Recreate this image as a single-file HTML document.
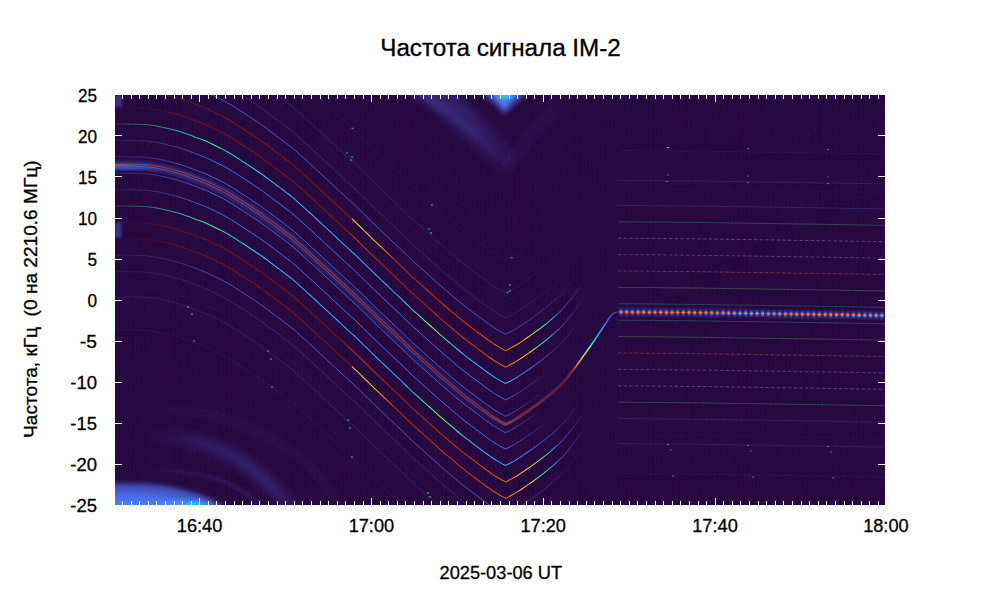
<!DOCTYPE html>
<html lang="ru"><head><meta charset="utf-8"><title>Частота сигнала IM-2</title>
<style>
html,body{margin:0;padding:0;background:#fff;}
body{width:1000px;height:600px;overflow:hidden;font-family:"Liberation Sans",sans-serif;}
svg{display:block;position:absolute;left:0;top:0;}
</style></head><body>
<svg width="1000" height="600" viewBox="0 0 1000 600">
<defs>
<clipPath id="cp"><rect x="115" y="95" width="770" height="410"/></clipPath>
<filter id="b2" filterUnits="userSpaceOnUse" x="60" y="40" width="900" height="520"><feGaussianBlur stdDeviation="1.6"/></filter>
<filter id="b4" filterUnits="userSpaceOnUse" x="60" y="40" width="900" height="520"><feGaussianBlur stdDeviation="4"/></filter>
<filter id="b7" filterUnits="userSpaceOnUse" x="60" y="40" width="900" height="520"><feGaussianBlur stdDeviation="7"/></filter>
<filter id="b05" filterUnits="userSpaceOnUse" x="60" y="40" width="900" height="520"><feGaussianBlur stdDeviation="0.5"/></filter>
<filter id="b1" filterUnits="userSpaceOnUse" x="60" y="40" width="900" height="520"><feGaussianBlur stdDeviation="0.9"/></filter>
<pattern id="seam" patternUnits="userSpaceOnUse" x="115" y="0" width="4.3" height="8"><rect x="0" y="0" width="1" height="8" fill="#16033a" opacity="0.2"/><rect x="2.1" y="0" width="1" height="8" fill="#44084a" opacity="0.13"/></pattern>
<filter id="noise" filterUnits="userSpaceOnUse" x="115" y="95" width="770" height="410"><feTurbulence type="fractalNoise" baseFrequency="0.85 0.6" numOctaves="1" seed="7"/><feColorMatrix type="matrix" values="0 0 0 0 0.22  0 0 0 0 0.10  0 0 0 0 0.44  1.2 1.2 0 0 -1.18"/></filter>
<linearGradient id="arcg" gradientUnits="userSpaceOnUse" x1="140" y1="0" x2="300" y2="0"><stop offset="0" stop-color="#3d358b" stop-opacity="0"/><stop offset="0.45" stop-color="#3f3b97" stop-opacity="0.55"/><stop offset="0.8" stop-color="#3f3b97" stop-opacity="0.6"/><stop offset="1" stop-color="#3d358b" stop-opacity="0.45"/></linearGradient>
<filter id="b3" filterUnits="userSpaceOnUse" x="60" y="40" width="900" height="520"><feGaussianBlur stdDeviation="2.8"/></filter>
<linearGradient id="wdg" gradientUnits="userSpaceOnUse" x1="0" y1="90" x2="0" y2="172"><stop offset="0" stop-color="#3f3b97" stop-opacity="0.55"/><stop offset="0.5" stop-color="#3d358b" stop-opacity="0.4"/><stop offset="1" stop-color="#3d358b" stop-opacity="0.08"/></linearGradient>
<linearGradient id="g1" gradientUnits="userSpaceOnUse" x1="100" y1="0" x2="505.5" y2="0"><stop offset="0.0000" stop-color="#434eba" stop-opacity="0.60"/><stop offset="0.1233" stop-color="#434eba" stop-opacity="0.52"/><stop offset="0.3699" stop-color="#424bb5" stop-opacity="0.44"/><stop offset="0.5672" stop-color="#424bb5" stop-opacity="0.38"/><stop offset="0.7891" stop-color="#424bb5" stop-opacity="0.30"/><stop offset="1.0000" stop-color="#4143a7" stop-opacity="0.12"/></linearGradient>
<linearGradient id="g2" gradientUnits="userSpaceOnUse" x1="100" y1="0" x2="165" y2="0"><stop offset="0.0000" stop-color="#4666dd" stop-opacity="0.70"/><stop offset="0.5385" stop-color="#4666dd" stop-opacity="0.55"/><stop offset="1.0000" stop-color="#4559cb" stop-opacity="0.00"/></linearGradient>
<linearGradient id="g3" gradientUnits="userSpaceOnUse" x1="100" y1="0" x2="543" y2="0"><stop offset="0.0000" stop-color="#4559cb" stop-opacity="0.25"/><stop offset="0.0903" stop-color="#4661d6" stop-opacity="0.40"/><stop offset="0.2257" stop-color="#4773eb" stop-opacity="0.85"/><stop offset="0.8578" stop-color="#4773eb" stop-opacity="0.85"/><stop offset="0.9153" stop-color="#476ee6" stop-opacity="0.80"/><stop offset="0.9594" stop-color="#4661d6" stop-opacity="0.50"/><stop offset="1.0000" stop-color="#4454c3" stop-opacity="0.00"/></linearGradient>
<linearGradient id="g4" gradientUnits="userSpaceOnUse" x1="100" y1="0" x2="548" y2="0"><stop offset="0.0000" stop-color="#4559cb" stop-opacity="0.12"/><stop offset="0.0558" stop-color="#4559cb" stop-opacity="0.25"/><stop offset="0.1339" stop-color="#4666dd" stop-opacity="0.45"/><stop offset="0.2567" stop-color="#477bf2" stop-opacity="0.90"/><stop offset="0.8482" stop-color="#477bf2" stop-opacity="0.90"/><stop offset="0.9051" stop-color="#4773eb" stop-opacity="0.90"/><stop offset="0.9554" stop-color="#4661d6" stop-opacity="0.50"/><stop offset="1.0000" stop-color="#4454c3" stop-opacity="0.00"/></linearGradient>
<linearGradient id="g5" gradientUnits="userSpaceOnUse" x1="100" y1="0" x2="580" y2="0"><stop offset="0.0000" stop-color="#a4fc3c" stop-opacity="0.10"/><stop offset="0.0458" stop-color="#79fe59" stop-opacity="0.20"/><stop offset="0.1042" stop-color="#35f394" stop-opacity="0.45"/><stop offset="0.1771" stop-color="#20c7df" stop-opacity="0.85"/><stop offset="0.2333" stop-color="#46f884" stop-opacity="1.00"/><stop offset="0.2812" stop-color="#19d5cd" stop-opacity="1.00"/><stop offset="0.4167" stop-color="#37a8fa" stop-opacity="1.00"/><stop offset="0.6125" stop-color="#3e9bfe" stop-opacity="1.00"/><stop offset="0.6625" stop-color="#27eea4" stop-opacity="1.00"/><stop offset="0.6917" stop-color="#8bff4b" stop-opacity="1.00"/><stop offset="0.7208" stop-color="#27eea4" stop-opacity="1.00"/><stop offset="0.7646" stop-color="#37a8fa" stop-opacity="1.00"/><stop offset="0.8448" stop-color="#2eb4f2" stop-opacity="1.00"/><stop offset="0.8854" stop-color="#4680f6" stop-opacity="0.90"/><stop offset="0.9479" stop-color="#4661d6" stop-opacity="0.45"/><stop offset="1.0000" stop-color="#4454c3" stop-opacity="0.00"/></linearGradient>
<linearGradient id="g6" gradientUnits="userSpaceOnUse" x1="100" y1="0" x2="588" y2="0"><stop offset="0.0000" stop-color="#920b01" stop-opacity="0.08"/><stop offset="0.0512" stop-color="#920b01" stop-opacity="0.15"/><stop offset="0.1434" stop-color="#9b0f01" stop-opacity="0.45"/><stop offset="0.2664" stop-color="#a11201" stop-opacity="0.70"/><stop offset="0.5020" stop-color="#a11201" stop-opacity="0.80"/><stop offset="0.5205" stop-color="#d83706" stop-opacity="0.95"/><stop offset="0.6148" stop-color="#af1801" stop-opacity="0.90"/><stop offset="0.7582" stop-color="#d83706" stop-opacity="1.00"/><stop offset="0.8309" stop-color="#f05b12" stop-opacity="1.00"/><stop offset="0.8607" stop-color="#fea431" stop-opacity="1.00"/><stop offset="0.8852" stop-color="#c3f134" stop-opacity="1.00"/><stop offset="0.9057" stop-color="#35f394" stop-opacity="1.00"/><stop offset="0.9262" stop-color="#37a8fa" stop-opacity="0.90"/><stop offset="0.9426" stop-color="#4773eb" stop-opacity="0.60"/><stop offset="0.9734" stop-color="#4559cb" stop-opacity="0.30"/><stop offset="1.0000" stop-color="#424bb5" stop-opacity="0.00"/></linearGradient>
<linearGradient id="g7" gradientUnits="userSpaceOnUse" x1="100" y1="0" x2="589" y2="0"><stop offset="0.0000" stop-color="#920b01" stop-opacity="0.08"/><stop offset="0.0511" stop-color="#920b01" stop-opacity="0.15"/><stop offset="0.1431" stop-color="#9b0f01" stop-opacity="0.45"/><stop offset="0.2658" stop-color="#a11201" stop-opacity="0.70"/><stop offset="0.5143" stop-color="#a11201" stop-opacity="0.80"/><stop offset="0.5153" stop-color="#ebd339" stop-opacity="1.00"/><stop offset="0.5562" stop-color="#f6c33a" stop-opacity="1.00"/><stop offset="0.5808" stop-color="#f9781e" stop-opacity="1.00"/><stop offset="0.6053" stop-color="#c32503" stop-opacity="0.90"/><stop offset="0.7566" stop-color="#d83706" stop-opacity="1.00"/><stop offset="0.8292" stop-color="#f05b12" stop-opacity="1.00"/><stop offset="0.8589" stop-color="#fea431" stop-opacity="1.00"/><stop offset="0.8855" stop-color="#c3f134" stop-opacity="1.00"/><stop offset="0.9059" stop-color="#35f394" stop-opacity="1.00"/><stop offset="0.9264" stop-color="#37a8fa" stop-opacity="0.90"/><stop offset="0.9427" stop-color="#4773eb" stop-opacity="0.60"/><stop offset="0.9734" stop-color="#4559cb" stop-opacity="0.30"/><stop offset="1.0000" stop-color="#424bb5" stop-opacity="0.00"/></linearGradient>
<linearGradient id="g8" gradientUnits="userSpaceOnUse" x1="100" y1="0" x2="580" y2="0"><stop offset="0.0000" stop-color="#4559cb" stop-opacity="0.10"/><stop offset="0.0521" stop-color="#4559cb" stop-opacity="0.20"/><stop offset="0.1458" stop-color="#4661d6" stop-opacity="0.40"/><stop offset="0.2708" stop-color="#476ee6" stop-opacity="0.80"/><stop offset="0.7917" stop-color="#476ee6" stop-opacity="0.80"/><stop offset="0.8448" stop-color="#4666dd" stop-opacity="0.75"/><stop offset="0.9375" stop-color="#4559cb" stop-opacity="0.45"/><stop offset="1.0000" stop-color="#424bb5" stop-opacity="0.00"/></linearGradient>
<linearGradient id="g9" gradientUnits="userSpaceOnUse" x1="100" y1="0" x2="575" y2="0"><stop offset="0.0000" stop-color="#424bb5" stop-opacity="0.20"/><stop offset="0.4211" stop-color="#4454c3" stop-opacity="0.45"/><stop offset="0.8537" stop-color="#424bb5" stop-opacity="0.40"/><stop offset="0.9474" stop-color="#4143a7" stop-opacity="0.20"/><stop offset="1.0000" stop-color="#4143a7" stop-opacity="0.00"/></linearGradient>
<linearGradient id="g10" gradientUnits="userSpaceOnUse" x1="100" y1="0" x2="570" y2="0"><stop offset="0.0000" stop-color="#3f3e9c" stop-opacity="0.10"/><stop offset="0.4255" stop-color="#3f3e9c" stop-opacity="0.15"/><stop offset="0.8628" stop-color="#3f3e9c" stop-opacity="0.12"/><stop offset="1.0000" stop-color="#3f3e9c" stop-opacity="0.00"/></linearGradient>
<linearGradient id="g11" gradientUnits="userSpaceOnUse" x1="100" y1="0" x2="575" y2="0"><stop offset="0.0000" stop-color="#424bb5" stop-opacity="0.25"/><stop offset="0.4211" stop-color="#424bb5" stop-opacity="0.38"/><stop offset="0.8537" stop-color="#4143a7" stop-opacity="0.35"/><stop offset="1.0000" stop-color="#3f3e9c" stop-opacity="0.00"/></linearGradient>
<linearGradient id="g12" gradientUnits="userSpaceOnUse" x1="100" y1="0" x2="560" y2="0"><stop offset="0.0000" stop-color="#3f3e9c" stop-opacity="0.18"/><stop offset="0.4348" stop-color="#3f3e9c" stop-opacity="0.25"/><stop offset="0.8815" stop-color="#3d358b" stop-opacity="0.20"/><stop offset="1.0000" stop-color="#3d358b" stop-opacity="0.00"/></linearGradient>
<linearGradient id="g13" gradientUnits="userSpaceOnUse" x1="100" y1="0" x2="543" y2="0"><stop offset="0.0000" stop-color="#4559cb" stop-opacity="0.25"/><stop offset="0.0903" stop-color="#4661d6" stop-opacity="0.40"/><stop offset="0.2257" stop-color="#4773eb" stop-opacity="0.85"/><stop offset="0.8578" stop-color="#4773eb" stop-opacity="0.85"/><stop offset="0.9153" stop-color="#476ee6" stop-opacity="0.80"/><stop offset="0.9594" stop-color="#4661d6" stop-opacity="0.50"/><stop offset="1.0000" stop-color="#4454c3" stop-opacity="0.00"/></linearGradient>
<linearGradient id="g14" gradientUnits="userSpaceOnUse" x1="100" y1="0" x2="548" y2="0"><stop offset="0.0000" stop-color="#4559cb" stop-opacity="0.12"/><stop offset="0.0558" stop-color="#4559cb" stop-opacity="0.25"/><stop offset="0.1339" stop-color="#4666dd" stop-opacity="0.45"/><stop offset="0.2567" stop-color="#477bf2" stop-opacity="0.90"/><stop offset="0.8482" stop-color="#477bf2" stop-opacity="0.90"/><stop offset="0.9051" stop-color="#4773eb" stop-opacity="0.90"/><stop offset="0.9554" stop-color="#4661d6" stop-opacity="0.50"/><stop offset="1.0000" stop-color="#4454c3" stop-opacity="0.00"/></linearGradient>
<linearGradient id="g15" gradientUnits="userSpaceOnUse" x1="100" y1="0" x2="580" y2="0"><stop offset="0.0000" stop-color="#a4fc3c" stop-opacity="0.10"/><stop offset="0.0458" stop-color="#79fe59" stop-opacity="0.20"/><stop offset="0.1042" stop-color="#35f394" stop-opacity="0.45"/><stop offset="0.1771" stop-color="#20c7df" stop-opacity="0.85"/><stop offset="0.2333" stop-color="#46f884" stop-opacity="1.00"/><stop offset="0.2812" stop-color="#19d5cd" stop-opacity="1.00"/><stop offset="0.4167" stop-color="#37a8fa" stop-opacity="1.00"/><stop offset="0.6292" stop-color="#3e9bfe" stop-opacity="1.00"/><stop offset="0.6792" stop-color="#27eea4" stop-opacity="1.00"/><stop offset="0.7083" stop-color="#8bff4b" stop-opacity="1.00"/><stop offset="0.7375" stop-color="#27eea4" stop-opacity="1.00"/><stop offset="0.7812" stop-color="#37a8fa" stop-opacity="1.00"/><stop offset="0.8448" stop-color="#2eb4f2" stop-opacity="1.00"/><stop offset="0.8854" stop-color="#4680f6" stop-opacity="0.90"/><stop offset="0.9479" stop-color="#4661d6" stop-opacity="0.45"/><stop offset="1.0000" stop-color="#4454c3" stop-opacity="0.00"/></linearGradient>
<linearGradient id="g16" gradientUnits="userSpaceOnUse" x1="100" y1="0" x2="588" y2="0"><stop offset="0.0000" stop-color="#920b01" stop-opacity="0.08"/><stop offset="0.0512" stop-color="#920b01" stop-opacity="0.15"/><stop offset="0.1434" stop-color="#9b0f01" stop-opacity="0.45"/><stop offset="0.2664" stop-color="#a11201" stop-opacity="0.70"/><stop offset="0.5020" stop-color="#a11201" stop-opacity="0.80"/><stop offset="0.5205" stop-color="#d83706" stop-opacity="0.95"/><stop offset="0.6148" stop-color="#af1801" stop-opacity="0.90"/><stop offset="0.7582" stop-color="#d83706" stop-opacity="1.00"/><stop offset="0.8309" stop-color="#f05b12" stop-opacity="1.00"/><stop offset="0.8607" stop-color="#fea431" stop-opacity="1.00"/><stop offset="0.8852" stop-color="#c3f134" stop-opacity="1.00"/><stop offset="0.9057" stop-color="#35f394" stop-opacity="1.00"/><stop offset="0.9262" stop-color="#37a8fa" stop-opacity="0.90"/><stop offset="0.9426" stop-color="#4773eb" stop-opacity="0.60"/><stop offset="0.9734" stop-color="#4559cb" stop-opacity="0.30"/><stop offset="1.0000" stop-color="#424bb5" stop-opacity="0.00"/></linearGradient>
<linearGradient id="g17" gradientUnits="userSpaceOnUse" x1="100" y1="0" x2="589" y2="0"><stop offset="0.0000" stop-color="#920b01" stop-opacity="0.08"/><stop offset="0.0511" stop-color="#920b01" stop-opacity="0.15"/><stop offset="0.1431" stop-color="#9b0f01" stop-opacity="0.45"/><stop offset="0.2658" stop-color="#a11201" stop-opacity="0.70"/><stop offset="0.5143" stop-color="#a11201" stop-opacity="0.80"/><stop offset="0.5153" stop-color="#ebd339" stop-opacity="1.00"/><stop offset="0.5562" stop-color="#f6c33a" stop-opacity="1.00"/><stop offset="0.5808" stop-color="#f9781e" stop-opacity="1.00"/><stop offset="0.6053" stop-color="#c32503" stop-opacity="0.90"/><stop offset="0.7566" stop-color="#d83706" stop-opacity="1.00"/><stop offset="0.8292" stop-color="#f05b12" stop-opacity="1.00"/><stop offset="0.8589" stop-color="#fea431" stop-opacity="1.00"/><stop offset="0.8855" stop-color="#c3f134" stop-opacity="1.00"/><stop offset="0.9059" stop-color="#35f394" stop-opacity="1.00"/><stop offset="0.9264" stop-color="#37a8fa" stop-opacity="0.90"/><stop offset="0.9427" stop-color="#4773eb" stop-opacity="0.60"/><stop offset="0.9734" stop-color="#4559cb" stop-opacity="0.30"/><stop offset="1.0000" stop-color="#424bb5" stop-opacity="0.00"/></linearGradient>
<linearGradient id="g18" gradientUnits="userSpaceOnUse" x1="100" y1="0" x2="580" y2="0"><stop offset="0.0000" stop-color="#4559cb" stop-opacity="0.10"/><stop offset="0.0521" stop-color="#4559cb" stop-opacity="0.20"/><stop offset="0.1458" stop-color="#4661d6" stop-opacity="0.40"/><stop offset="0.2708" stop-color="#476ee6" stop-opacity="0.80"/><stop offset="0.7917" stop-color="#476ee6" stop-opacity="0.80"/><stop offset="0.8448" stop-color="#4666dd" stop-opacity="0.75"/><stop offset="0.9375" stop-color="#4559cb" stop-opacity="0.45"/><stop offset="1.0000" stop-color="#424bb5" stop-opacity="0.00"/></linearGradient>
<linearGradient id="g19" gradientUnits="userSpaceOnUse" x1="100" y1="0" x2="575" y2="0"><stop offset="0.0000" stop-color="#424bb5" stop-opacity="0.20"/><stop offset="0.4211" stop-color="#4454c3" stop-opacity="0.45"/><stop offset="0.8537" stop-color="#424bb5" stop-opacity="0.40"/><stop offset="0.9474" stop-color="#4143a7" stop-opacity="0.20"/><stop offset="1.0000" stop-color="#4143a7" stop-opacity="0.00"/></linearGradient>
<linearGradient id="g20" gradientUnits="userSpaceOnUse" x1="100" y1="0" x2="570" y2="0"><stop offset="0.0000" stop-color="#3f3e9c" stop-opacity="0.10"/><stop offset="0.4255" stop-color="#3f3e9c" stop-opacity="0.15"/><stop offset="0.8628" stop-color="#3f3e9c" stop-opacity="0.12"/><stop offset="1.0000" stop-color="#3f3e9c" stop-opacity="0.00"/></linearGradient>
<linearGradient id="g21" gradientUnits="userSpaceOnUse" x1="100" y1="0" x2="575" y2="0"><stop offset="0.0000" stop-color="#424bb5" stop-opacity="0.25"/><stop offset="0.4211" stop-color="#424bb5" stop-opacity="0.38"/><stop offset="0.8537" stop-color="#4143a7" stop-opacity="0.35"/><stop offset="1.0000" stop-color="#3f3e9c" stop-opacity="0.00"/></linearGradient>
<linearGradient id="g22" gradientUnits="userSpaceOnUse" x1="100" y1="0" x2="560" y2="0"><stop offset="0.0000" stop-color="#3f3e9c" stop-opacity="0.18"/><stop offset="0.4348" stop-color="#3f3e9c" stop-opacity="0.25"/><stop offset="0.8815" stop-color="#3d358b" stop-opacity="0.20"/><stop offset="1.0000" stop-color="#3d358b" stop-opacity="0.00"/></linearGradient>
<linearGradient id="g23" gradientUnits="userSpaceOnUse" x1="100" y1="0" x2="618.1" y2="0"><stop offset="0.0000" stop-color="#f05b12" stop-opacity="0.80"/><stop offset="0.0965" stop-color="#a11201" stop-opacity="1.00"/><stop offset="0.1930" stop-color="#850702" stop-opacity="1.00"/><stop offset="0.7334" stop-color="#850702" stop-opacity="1.00"/><stop offset="0.7827" stop-color="#c32503" stop-opacity="1.00"/><stop offset="0.8107" stop-color="#a11201" stop-opacity="1.00"/><stop offset="0.8975" stop-color="#920b01" stop-opacity="1.00"/><stop offset="0.9130" stop-color="#c32503" stop-opacity="1.00"/><stop offset="0.9226" stop-color="#fc8725" stop-opacity="1.00"/><stop offset="0.9323" stop-color="#e1dd37" stop-opacity="1.00"/><stop offset="0.9438" stop-color="#79fe59" stop-opacity="1.00"/><stop offset="0.9554" stop-color="#1ecbda" stop-opacity="1.00"/><stop offset="0.9670" stop-color="#448ffe" stop-opacity="1.00"/><stop offset="0.9805" stop-color="#476ee6" stop-opacity="0.95"/><stop offset="0.9902" stop-color="#4454c3" stop-opacity="0.80"/><stop offset="1.0000" stop-color="#4143a7" stop-opacity="0.50"/></linearGradient>
<linearGradient id="g24" gradientUnits="userSpaceOnUse" x1="100" y1="0" x2="600" y2="0"><stop offset="0.0000" stop-color="#4773eb" stop-opacity="0.35"/><stop offset="0.1200" stop-color="#448ffe" stop-opacity="0.60"/><stop offset="0.7600" stop-color="#448ffe" stop-opacity="0.60"/><stop offset="0.8110" stop-color="#4687fb" stop-opacity="0.55"/><stop offset="0.9400" stop-color="#4773eb" stop-opacity="0.30"/><stop offset="1.0000" stop-color="#4666dd" stop-opacity="0.00"/></linearGradient>
</defs>
<rect x="0" y="0" width="1000" height="600" fill="#fff"/>
<rect x="115" y="95" width="770" height="410" fill="#25083f"/>
<g clip-path="url(#cp)">
<rect x="115" y="95" width="770" height="410" fill="url(#seam)"/>
<rect x="115" y="95" width="770" height="410" fill="#000" filter="url(#noise)" opacity="0.2"/>
<path d="M120 435 C170 435 208 440 236 458 C262 475 286 498 304 524" stroke="url(#arcg)" stroke-opacity="0.75" stroke-width="14" fill="none" filter="url(#b4)"/>
<path d="M120 469 C160 469 200 471 225 482 C245 491 258 502 268 514" stroke="url(#arcg)" stroke-opacity="0.5" stroke-width="4" fill="none" filter="url(#b2)"/>
<path d="M150 408 C210 410 260 425 300 458 C320 476 335 496 345 514" stroke="url(#arcg)" stroke-opacity="0.22" stroke-width="10" fill="none" filter="url(#b4)"/>
<path d="M90 483 L140 483.6 C174 485 204 492.6 229 510 L229 520 L90 520 Z" fill="#4249b1" opacity="1.0" filter="url(#b3)"/>
<path d="M90 488 L140 488.6 C168 490 198 495.6 223 510 L223 520 L90 520 Z" fill="#455ccf" opacity="1.0" filter="url(#b3)"/>
<path d="M90 494 L140 494.6 C162 496 192 499.2 217 510 L217 520 L90 520 Z" fill="#4771e9" opacity="1.0" filter="url(#b3)"/>
<path d="M90 500 L140 500.6 C156 502 186 502.8 211 510 L211 520 L90 520 Z" fill="#467df4" opacity="1.0" filter="url(#b3)"/>
<ellipse cx="186" cy="506" rx="26" ry="5" fill="#4294ff" filter="url(#b3)"/>
<ellipse cx="194" cy="506" rx="9" ry="3.5" fill="#20c7df" filter="url(#b2)"/>
<path d="M400 68 C442 98 482 132 508 168" stroke="url(#wdg)" stroke-width="26" fill="none" filter="url(#b4)"/>
<path d="M392 75 C435 100 478 132 506 166" stroke="url(#wdg)" stroke-opacity="0.8" stroke-width="9" fill="none" filter="url(#b3)"/>
<path d="M508 166 C520 148 532 133 550 115" stroke="#3d358b" stroke-opacity="0.14" stroke-width="14" stroke-linecap="round" fill="none" filter="url(#b4)"/>
<path d="M478 88 L531 88 L504.5 114 Z" fill="#434eba" filter="url(#b3)"/>
<path d="M486 88 L523 88 L504.5 108 Z" fill="#4773eb" filter="url(#b2)"/>
<ellipse cx="504.5" cy="95" rx="8" ry="5" fill="#3ba0fd" filter="url(#b2)"/>
<ellipse cx="504.5" cy="95.5" rx="3.5" ry="2.5" fill="#19d5cd" filter="url(#b1)"/>
<rect x="115" y="95" width="7" height="12" fill="#4040a2" opacity="0.7" filter="url(#b1)"/>
<rect x="115" y="222.5" width="6.5" height="15" fill="#424bb5" opacity="0.65" filter="url(#b1)"/>
<path d="M100.0 165.5L103.0 165.5L106.0 165.5L109.0 165.5L112.0 165.5L115.0 165.5L118.0 165.5L121.0 165.5L124.0 165.5L127.0 165.6L130.0 165.6L133.0 165.7L136.0 165.7L139.0 165.8L142.0 165.9L145.0 166.0L148.0 166.3L151.0 166.7L154.0 167.1L157.0 167.6L160.0 168.2L163.0 168.9L166.0 169.5L169.0 170.2L172.0 171.0L175.0 171.8L178.0 172.6L181.0 173.5L184.0 174.5L187.0 175.5L190.0 176.6L193.0 177.7L196.0 178.9L199.0 180.0L202.0 181.1L205.0 182.3L208.0 183.6L211.0 185.1L214.0 186.5L217.0 188.0L220.0 189.4L223.0 190.9L226.0 192.6L229.0 194.3L232.0 196.1L235.0 198.0L238.0 199.9L241.0 201.9L244.0 203.8L247.0 205.8L250.0 207.7L253.0 209.7L256.0 211.7L259.0 213.7L262.0 215.8L265.0 218.0L268.0 220.2L271.0 222.5L274.0 224.7L277.0 227.0L280.0 229.2L283.0 231.5L286.0 233.8L289.0 236.0L292.0 238.4L295.0 240.9L298.0 243.6L301.0 246.4L304.0 249.1L307.0 251.8L310.0 254.5L313.0 257.2L316.0 260.0L319.0 262.8L322.0 265.6L325.0 268.3L328.0 271.1L331.0 273.9L334.0 276.7L337.0 279.5L340.0 282.3L343.0 285.1L346.0 287.8L349.0 290.6L352.0 293.3L355.0 296.0L358.0 298.9L361.0 301.8L364.0 304.8L367.0 307.7L370.0 310.7L373.0 313.6L376.0 316.5L379.0 319.3L382.0 322.2L385.0 325.0L388.0 327.9L391.0 330.7L394.0 333.6L397.0 336.4L400.0 339.2L403.0 342.1L406.0 345.0L409.0 348.0L412.0 350.9L415.0 353.6L418.0 356.2L421.0 358.9L424.0 361.6L427.0 364.3L430.0 367.0L433.0 369.7L436.0 372.4L439.0 375.1L442.0 377.7L445.0 380.3L448.0 382.8L451.0 385.4L454.0 387.9L457.0 390.5L460.0 393.0L463.0 395.4L466.0 397.8L469.0 400.0L472.0 402.3L475.0 404.5L478.0 406.8L481.0 409.0L484.0 411.3L487.0 413.5L490.0 415.6L493.0 417.7L496.0 419.6L499.0 421.4L502.0 423.1L505.0 424.7L505.5 425.0" stroke="url(#g1)" stroke-width="8" fill="none" filter="url(#b2)"/>
<path d="M100.0 167.5L103.0 167.5L106.0 167.5L109.0 167.5L112.0 167.5L115.0 167.5L118.0 167.5L121.0 167.5L124.0 167.5L127.0 167.6L130.0 167.6L133.0 167.7L136.0 167.7L139.0 167.8L142.0 167.9L145.0 168.0L148.0 168.3L151.0 168.7L154.0 169.1L157.0 169.6L160.0 170.2L163.0 170.9L166.0 171.5L169.0 172.2L172.0 173.0L175.0 173.8" stroke="url(#g2)" stroke-width="4" fill="none" filter="url(#b1)"/>
<path d="M100.0 156.8L103.0 156.8L106.0 156.8L109.0 156.8L112.0 156.8L115.0 156.8L118.0 156.8L121.0 156.8L124.0 156.8L127.0 156.9L130.0 156.9L133.0 157.0L136.0 157.0L139.0 157.1L142.0 157.2L145.0 157.3L148.0 157.6L151.0 158.0L154.0 158.4L157.0 158.9L160.0 159.5L163.0 160.2L166.0 160.8L169.0 161.5L172.0 162.3L175.0 163.1L178.0 163.9L181.0 164.8L184.0 165.8L187.0 166.8L190.0 167.9L193.0 169.0L196.0 170.2L199.0 171.3L202.0 172.4L205.0 173.6L208.0 174.9L211.0 176.4L214.0 177.8L217.0 179.3L220.0 180.7L223.0 182.2L226.0 183.9L229.0 185.6L232.0 187.4L235.0 189.3L238.0 191.2L241.0 193.2L244.0 195.1L247.0 197.1L250.0 199.0L253.0 201.0L256.0 203.0L259.0 205.0L262.0 207.1L265.0 209.3L268.0 211.5L271.0 213.8L274.0 216.0L277.0 218.3L280.0 220.5L283.0 222.8L286.0 225.1L289.0 227.3L292.0 229.7L295.0 232.2L298.0 234.9L301.0 237.7L304.0 240.4L307.0 243.1L310.0 245.8L313.0 248.5L316.0 251.3L319.0 254.1L322.0 256.9L325.0 259.6L328.0 262.4L331.0 265.2L334.0 268.0L337.0 270.8L340.0 273.6L343.0 276.4L346.0 279.1L349.0 281.9L352.0 284.6L355.0 287.3L358.0 290.2L361.0 293.1L364.0 296.1L367.0 299.0L370.0 302.0L373.0 304.9L376.0 307.8L379.0 310.6L382.0 313.5L385.0 316.3L388.0 319.2L391.0 322.0L394.0 324.9L397.0 327.7L400.0 330.5L403.0 333.4L406.0 336.3L409.0 339.3L412.0 342.2L415.0 344.9L418.0 347.5L421.0 350.2L424.0 352.9L427.0 355.6L430.0 358.3L433.0 361.0L436.0 363.7L439.0 366.4L442.0 369.0L445.0 371.6L448.0 374.1L451.0 376.7L454.0 379.2L457.0 381.8L460.0 384.3L463.0 386.7L466.0 389.1L469.0 391.3L472.0 393.6L475.0 395.8L478.0 398.1L481.0 400.3L484.0 402.6L487.0 404.8L490.0 406.9L493.0 409.0L496.0 410.9L499.0 412.7L502.0 414.4L505.0 416.0L505.5 416.3L508.0 415.1L511.0 413.5L514.0 411.9L517.0 410.1L520.0 408.2L523.0 406.2L526.0 404.1L529.0 402.1L532.0 400.0L535.0 397.8L538.0 395.6L541.0 393.4" stroke="url(#g3)" stroke-width="0.95" fill="none"/>
<path d="M100.0 140.4L103.0 140.4L106.0 140.4L109.0 140.4L112.0 140.4L115.0 140.4L118.0 140.4L121.0 140.4L124.0 140.4L127.0 140.5L130.0 140.5L133.0 140.6L136.0 140.6L139.0 140.7L142.0 140.8L145.0 140.9L148.0 141.2L151.0 141.6L154.0 142.0L157.0 142.5L160.0 143.1L163.0 143.8L166.0 144.4L169.0 145.1L172.0 145.9L175.0 146.7L178.0 147.5L181.0 148.4L184.0 149.4L187.0 150.4L190.0 151.5L193.0 152.6L196.0 153.8L199.0 154.9L202.0 156.0L205.0 157.2L208.0 158.5L211.0 160.0L214.0 161.4L217.0 162.9L220.0 164.3L223.0 165.8L226.0 167.5L229.0 169.2L232.0 171.0L235.0 172.9L238.0 174.8L241.0 176.8L244.0 178.7L247.0 180.7L250.0 182.6L253.0 184.6L256.0 186.6L259.0 188.6L262.0 190.7L265.0 192.9L268.0 195.1L271.0 197.4L274.0 199.6L277.0 201.9L280.0 204.1L283.0 206.4L286.0 208.7L289.0 210.9L292.0 213.3L295.0 215.8L298.0 218.5L301.0 221.3L304.0 224.0L307.0 226.7L310.0 229.4L313.0 232.1L316.0 234.9L319.0 237.7L322.0 240.5L325.0 243.2L328.0 246.0L331.0 248.8L334.0 251.6L337.0 254.4L340.0 257.2L343.0 260.0L346.0 262.7L349.0 265.5L352.0 268.2L355.0 270.9L358.0 273.8L361.0 276.7L364.0 279.7L367.0 282.6L370.0 285.6L373.0 288.5L376.0 291.4L379.0 294.2L382.0 297.1L385.0 299.9L388.0 302.8L391.0 305.6L394.0 308.4L397.0 311.3L400.0 314.1L403.0 317.0L406.0 319.9L409.0 322.9L412.0 325.8L415.0 328.5L418.0 331.1L421.0 333.8L424.0 336.5L427.0 339.2L430.0 341.9L433.0 344.6L436.0 347.3L439.0 350.0L442.0 352.6L445.0 355.2L448.0 357.7L451.0 360.3L454.0 362.8L457.0 365.4L460.0 367.9L463.0 370.3L466.0 372.7L469.0 374.9L472.0 377.2L475.0 379.4L478.0 381.7L481.0 383.9L484.0 386.2L487.0 388.4L490.0 390.5L493.0 392.6L496.0 394.5L499.0 396.3L502.0 398.0L505.0 399.6L505.5 399.9L508.0 398.7L511.0 397.1L514.0 395.5L517.0 393.7L520.0 391.8L523.0 389.8L526.0 387.7L529.0 385.7L532.0 383.6L535.0 381.4L538.0 379.2L541.0 377.0L544.0 374.7L547.0 372.3" stroke="url(#g4)" stroke-width="0.95" fill="none"/>
<path d="M100.0 124.0L103.0 124.0L106.0 124.0L109.0 124.0L112.0 124.0L115.0 124.0L118.0 124.0L121.0 124.0L124.0 124.0L127.0 124.1L130.0 124.1L133.0 124.2L136.0 124.2L139.0 124.3L142.0 124.4L145.0 124.5L148.0 124.8L151.0 125.2L154.0 125.6L157.0 126.1L160.0 126.7L163.0 127.4L166.0 128.0L169.0 128.7L172.0 129.5L175.0 130.3L178.0 131.1L181.0 132.0L184.0 133.0L187.0 134.0L190.0 135.1L193.0 136.2L196.0 137.4L199.0 138.5L202.0 139.6L205.0 140.8L208.0 142.1L211.0 143.6L214.0 145.0L217.0 146.5L220.0 147.9L223.0 149.4L226.0 151.1L229.0 152.8L232.0 154.6L235.0 156.5L238.0 158.4L241.0 160.4L244.0 162.3L247.0 164.3L250.0 166.2L253.0 168.2L256.0 170.2L259.0 172.2L262.0 174.3L265.0 176.5L268.0 178.7L271.0 181.0L274.0 183.2L277.0 185.5L280.0 187.7L283.0 190.0L286.0 192.3L289.0 194.5L292.0 196.9L295.0 199.4L298.0 202.1L301.0 204.9L304.0 207.6L307.0 210.3L310.0 213.0L313.0 215.7L316.0 218.5L319.0 221.3L322.0 224.1L325.0 226.8L328.0 229.6L331.0 232.4L334.0 235.2L337.0 238.0L340.0 240.8L343.0 243.6L346.0 246.3L349.0 249.1L352.0 251.8L355.0 254.5L358.0 257.4L361.0 260.3L364.0 263.3L367.0 266.2L370.0 269.2L373.0 272.1L376.0 275.0L379.0 277.8L382.0 280.7L385.0 283.5L388.0 286.4L391.0 289.2L394.0 292.1L397.0 294.9L400.0 297.7L403.0 300.6L406.0 303.5L409.0 306.5L412.0 309.4L415.0 312.1L418.0 314.7L421.0 317.4L424.0 320.1L427.0 322.8L430.0 325.5L433.0 328.2L436.0 330.9L439.0 333.6L442.0 336.2L445.0 338.8L448.0 341.3L451.0 343.9L454.0 346.4L457.0 349.0L460.0 351.5L463.0 353.9L466.0 356.3L469.0 358.5L472.0 360.8L475.0 363.0L478.0 365.3L481.0 367.5L484.0 369.8L487.0 372.0L490.0 374.1L493.0 376.2L496.0 378.1L499.0 379.9L502.0 381.6L505.0 383.2L505.5 383.5L508.0 382.3L511.0 380.7L514.0 379.1L517.0 377.3L520.0 375.4L523.0 373.4L526.0 371.3L529.0 369.3L532.0 367.2L535.0 365.0L538.0 362.8L541.0 360.6L544.0 358.3L547.0 355.9L550.0 353.4L553.0 350.8L556.0 348.1L559.0 345.4L562.0 342.5L565.0 339.2L568.0 335.5L571.0 331.7L574.0 327.9L577.0 323.9L580.0 319.8" stroke="url(#g5)" stroke-width="1.05" fill="none"/>
<path d="M100.0 107.6L103.0 107.6L106.0 107.6L109.0 107.6L112.0 107.6L115.0 107.6L118.0 107.6L121.0 107.6L124.0 107.6L127.0 107.7L130.0 107.7L133.0 107.8L136.0 107.8L139.0 107.9L142.0 108.0L145.0 108.1L148.0 108.4L151.0 108.8L154.0 109.2L157.0 109.7L160.0 110.3L163.0 111.0L166.0 111.6L169.0 112.3L172.0 113.1L175.0 113.9L178.0 114.7L181.0 115.6L184.0 116.6L187.0 117.6L190.0 118.7L193.0 119.8L196.0 121.0L199.0 122.1L202.0 123.2L205.0 124.4L208.0 125.7L211.0 127.2L214.0 128.6L217.0 130.1L220.0 131.5L223.0 133.0L226.0 134.7L229.0 136.4L232.0 138.2L235.0 140.1L238.0 142.0L241.0 144.0L244.0 145.9L247.0 147.9L250.0 149.8L253.0 151.8L256.0 153.8L259.0 155.8L262.0 157.9L265.0 160.1L268.0 162.3L271.0 164.6L274.0 166.8L277.0 169.1L280.0 171.3L283.0 173.6L286.0 175.9L289.0 178.1L292.0 180.5L295.0 183.0L298.0 185.7L301.0 188.5L304.0 191.2L307.0 193.9L310.0 196.6L313.0 199.3L316.0 202.1L319.0 204.9L322.0 207.7L325.0 210.4L328.0 213.2L331.0 216.0L334.0 218.8L337.0 221.6L340.0 224.4L343.0 227.2L346.0 229.9L349.0 232.7L352.0 235.4L355.0 238.1L358.0 241.0L361.0 243.9L364.0 246.9L367.0 249.8L370.0 252.8L373.0 255.7L376.0 258.6L379.0 261.4L382.0 264.3L385.0 267.1L388.0 270.0L391.0 272.8L394.0 275.7L397.0 278.5L400.0 281.3L403.0 284.2L406.0 287.1L409.0 290.1L412.0 293.0L415.0 295.7L418.0 298.3L421.0 301.0L424.0 303.7L427.0 306.4L430.0 309.1L433.0 311.8L436.0 314.5L439.0 317.2L442.0 319.8L445.0 322.4L448.0 324.9L451.0 327.5L454.0 330.0L457.0 332.6L460.0 335.1L463.0 337.5L466.0 339.9L469.0 342.1L472.0 344.4L475.0 346.6L478.0 348.9L481.0 351.1L484.0 353.4L487.0 355.6L490.0 357.7L493.0 359.8L496.0 361.7L499.0 363.5L502.0 365.2L505.0 366.8L505.5 367.1L508.0 365.9L511.0 364.3L514.0 362.7L517.0 360.9L520.0 359.0L523.0 357.0L526.0 354.9L529.0 352.9L532.0 350.8L535.0 348.6L538.0 346.4L541.0 344.2L544.0 341.9L547.0 339.5L550.0 337.0L553.0 334.4L556.0 331.7L559.0 329.0L562.0 326.1L565.0 322.8L568.0 319.1L571.0 315.3L574.0 311.5L577.0 307.5L580.0 303.4L583.0 299.1L586.0 294.9" stroke="url(#g6)" stroke-width="1.05" fill="none"/>
<path d="M100.0 91.2L103.0 91.2L106.0 91.2L109.0 91.2L112.0 91.2L115.0 91.2L118.0 91.2L121.0 91.2L124.0 91.2L127.0 91.3L130.0 91.3L133.0 91.4L136.0 91.4L139.0 91.5L142.0 91.6L145.0 91.7L148.0 92.0L151.0 92.4L154.0 92.8L157.0 93.3L160.0 93.9L163.0 94.6L166.0 95.2L169.0 95.9L172.0 96.7L175.0 97.5L178.0 98.3L181.0 99.2L184.0 100.2L187.0 101.2L190.0 102.3L193.0 103.4L196.0 104.6L199.0 105.7L202.0 106.8L205.0 108.0L208.0 109.3L211.0 110.8L214.0 112.2L217.0 113.7L220.0 115.1L223.0 116.6L226.0 118.3L229.0 120.0L232.0 121.8L235.0 123.7L238.0 125.6L241.0 127.6L244.0 129.5L247.0 131.5L250.0 133.4L253.0 135.4L256.0 137.4L259.0 139.4L262.0 141.5L265.0 143.7L268.0 145.9L271.0 148.2L274.0 150.4L277.0 152.7L280.0 154.9L283.0 157.2L286.0 159.5L289.0 161.7L292.0 164.1L295.0 166.6L298.0 169.3L301.0 172.1L304.0 174.8L307.0 177.5L310.0 180.2L313.0 182.9L316.0 185.7L319.0 188.5L322.0 191.3L325.0 194.0L328.0 196.8L331.0 199.6L334.0 202.4L337.0 205.2L340.0 208.0L343.0 210.8L346.0 213.5L349.0 216.3L352.0 219.0L355.0 221.7L358.0 224.6L361.0 227.5L364.0 230.5L367.0 233.4L370.0 236.4L373.0 239.3L376.0 242.2L379.0 245.0L382.0 247.9L385.0 250.7L388.0 253.6L391.0 256.4L394.0 259.2L397.0 262.1L400.0 264.9L403.0 267.8L406.0 270.7L409.0 273.7L412.0 276.6L415.0 279.3L418.0 281.9L421.0 284.6L424.0 287.3L427.0 290.0L430.0 292.7L433.0 295.4L436.0 298.1L439.0 300.8L442.0 303.4L445.0 306.0L448.0 308.5L451.0 311.1L454.0 313.6L457.0 316.2L460.0 318.7L463.0 321.1L466.0 323.5L469.0 325.7L472.0 328.0L475.0 330.2L478.0 332.5L481.0 334.7L484.0 337.0L487.0 339.2L490.0 341.3L493.0 343.4L496.0 345.3L499.0 347.1L502.0 348.8L505.0 350.4L505.5 350.7L508.0 349.5L511.0 347.9L514.0 346.3L517.0 344.5L520.0 342.6L523.0 340.6L526.0 338.5L529.0 336.5L532.0 334.4L535.0 332.2L538.0 330.0L541.0 327.8L544.0 325.5L547.0 323.1L550.0 320.6L553.0 318.0L556.0 315.3L559.0 312.6L562.0 309.7L565.0 306.4L568.0 302.7L571.0 298.9L574.0 295.1L577.0 291.1L580.0 287.0L583.0 282.7L586.0 278.5L589.0 274.3" stroke="url(#g7)" stroke-width="1.05" fill="none"/>
<path d="M100.0 74.8L103.0 74.8L106.0 74.8L109.0 74.8L112.0 74.8L115.0 74.8L118.0 74.8L121.0 74.8L124.0 74.8L127.0 74.9L130.0 74.9L133.0 75.0L136.0 75.0L139.0 75.1L142.0 75.2L145.0 75.3L148.0 75.6L151.0 76.0L154.0 76.4L157.0 76.9L160.0 77.5L163.0 78.2L166.0 78.8L169.0 79.5L172.0 80.3L175.0 81.1L178.0 81.9L181.0 82.8L184.0 83.8L187.0 84.8L190.0 85.9L193.0 87.0L196.0 88.2L199.0 89.3L202.0 90.4L205.0 91.6L208.0 92.9L211.0 94.4L214.0 95.8L217.0 97.3L220.0 98.7L223.0 100.2L226.0 101.9L229.0 103.6L232.0 105.4L235.0 107.3L238.0 109.2L241.0 111.2L244.0 113.1L247.0 115.1L250.0 117.0L253.0 119.0L256.0 121.0L259.0 123.0L262.0 125.1L265.0 127.3L268.0 129.5L271.0 131.8L274.0 134.0L277.0 136.3L280.0 138.5L283.0 140.8L286.0 143.1L289.0 145.3L292.0 147.7L295.0 150.2L298.0 152.9L301.0 155.7L304.0 158.4L307.0 161.1L310.0 163.8L313.0 166.5L316.0 169.3L319.0 172.1L322.0 174.9L325.0 177.6L328.0 180.4L331.0 183.2L334.0 186.0L337.0 188.8L340.0 191.6L343.0 194.4L346.0 197.1L349.0 199.9L352.0 202.6L355.0 205.3L358.0 208.2L361.0 211.1L364.0 214.1L367.0 217.0L370.0 220.0L373.0 222.9L376.0 225.8L379.0 228.6L382.0 231.5L385.0 234.3L388.0 237.2L391.0 240.0L394.0 242.9L397.0 245.7L400.0 248.5L403.0 251.4L406.0 254.3L409.0 257.3L412.0 260.2L415.0 262.9L418.0 265.5L421.0 268.2L424.0 270.9L427.0 273.6L430.0 276.3L433.0 279.0L436.0 281.7L439.0 284.4L442.0 287.0L445.0 289.6L448.0 292.1L451.0 294.7L454.0 297.2L457.0 299.8L460.0 302.3L463.0 304.7L466.0 307.1L469.0 309.3L472.0 311.6L475.0 313.8L478.0 316.1L481.0 318.3L484.0 320.6L487.0 322.8L490.0 324.9L493.0 327.0L496.0 328.9L499.0 330.7L502.0 332.4L505.0 334.0L505.5 334.3L508.0 333.1L511.0 331.5L514.0 329.9L517.0 328.1L520.0 326.2L523.0 324.2L526.0 322.1L529.0 320.1L532.0 318.0L535.0 315.8L538.0 313.6L541.0 311.4L544.0 309.1L547.0 306.7L550.0 304.2L553.0 301.6L556.0 298.9L559.0 296.2L562.0 293.3L565.0 290.0L568.0 286.3L571.0 282.5L574.0 278.7L577.0 274.7L580.0 270.6" stroke="url(#g8)" stroke-width="0.95" fill="none"/>
<path d="M100.0 58.4L103.0 58.4L106.0 58.4L109.0 58.4L112.0 58.4L115.0 58.4L118.0 58.4L121.0 58.4L124.0 58.4L127.0 58.5L130.0 58.5L133.0 58.6L136.0 58.6L139.0 58.7L142.0 58.8L145.0 58.9L148.0 59.2L151.0 59.6L154.0 60.0L157.0 60.5L160.0 61.1L163.0 61.8L166.0 62.4L169.0 63.1L172.0 63.9L175.0 64.7L178.0 65.5L181.0 66.4L184.0 67.4L187.0 68.4L190.0 69.5L193.0 70.6L196.0 71.8L199.0 72.9L202.0 74.0L205.0 75.2L208.0 76.5L211.0 78.0L214.0 79.4L217.0 80.9L220.0 82.3L223.0 83.8L226.0 85.5L229.0 87.2L232.0 89.0L235.0 90.9L238.0 92.8L241.0 94.8L244.0 96.7L247.0 98.7L250.0 100.6L253.0 102.6L256.0 104.6L259.0 106.6L262.0 108.7L265.0 110.9L268.0 113.1L271.0 115.4L274.0 117.6L277.0 119.9L280.0 122.1L283.0 124.4L286.0 126.7L289.0 128.9L292.0 131.3L295.0 133.8L298.0 136.5L301.0 139.3L304.0 142.0L307.0 144.7L310.0 147.4L313.0 150.1L316.0 152.9L319.0 155.7L322.0 158.5L325.0 161.2L328.0 164.0L331.0 166.8L334.0 169.6L337.0 172.4L340.0 175.2L343.0 178.0L346.0 180.7L349.0 183.5L352.0 186.2L355.0 188.9L358.0 191.8L361.0 194.7L364.0 197.7L367.0 200.6L370.0 203.6L373.0 206.5L376.0 209.4L379.0 212.2L382.0 215.1L385.0 217.9L388.0 220.8L391.0 223.6L394.0 226.5L397.0 229.3L400.0 232.1L403.0 235.0L406.0 237.9L409.0 240.9L412.0 243.8L415.0 246.5L418.0 249.1L421.0 251.8L424.0 254.5L427.0 257.2L430.0 259.9L433.0 262.6L436.0 265.3L439.0 268.0L442.0 270.6L445.0 273.2L448.0 275.7L451.0 278.3L454.0 280.8L457.0 283.4L460.0 285.9L463.0 288.3L466.0 290.7L469.0 292.9L472.0 295.2L475.0 297.4L478.0 299.7L481.0 301.9L484.0 304.2L487.0 306.4L490.0 308.5L493.0 310.6L496.0 312.5L499.0 314.3L502.0 316.0L505.0 317.6L505.5 317.9L508.0 316.7L511.0 315.1L514.0 313.5L517.0 311.7L520.0 309.8L523.0 307.8L526.0 305.7L529.0 303.7L532.0 301.6L535.0 299.4L538.0 297.2L541.0 295.0L544.0 292.7L547.0 290.3L550.0 287.8L553.0 285.2L556.0 282.5L559.0 279.8L562.0 276.9L565.0 273.6L568.0 269.9L571.0 266.1L574.0 262.3" stroke="url(#g9)" stroke-width="0.95" fill="none"/>
<path d="M100.0 42.0L103.0 42.0L106.0 42.0L109.0 42.0L112.0 42.0L115.0 42.0L118.0 42.0L121.0 42.0L124.0 42.0L127.0 42.1L130.0 42.1L133.0 42.2L136.0 42.2L139.0 42.3L142.0 42.4L145.0 42.5L148.0 42.8L151.0 43.2L154.0 43.6L157.0 44.1L160.0 44.7L163.0 45.4L166.0 46.0L169.0 46.7L172.0 47.5L175.0 48.3L178.0 49.1L181.0 50.0L184.0 51.0L187.0 52.0L190.0 53.1L193.0 54.2L196.0 55.4L199.0 56.5L202.0 57.6L205.0 58.8L208.0 60.1L211.0 61.6L214.0 63.0L217.0 64.5L220.0 65.9L223.0 67.4L226.0 69.1L229.0 70.8L232.0 72.6L235.0 74.5L238.0 76.4L241.0 78.4L244.0 80.3L247.0 82.3L250.0 84.2L253.0 86.2L256.0 88.2L259.0 90.2L262.0 92.3L265.0 94.5L268.0 96.7L271.0 99.0L274.0 101.2L277.0 103.5L280.0 105.7L283.0 108.0L286.0 110.3L289.0 112.5L292.0 114.9L295.0 117.4L298.0 120.1L301.0 122.9L304.0 125.6L307.0 128.3L310.0 131.0L313.0 133.7L316.0 136.5L319.0 139.3L322.0 142.1L325.0 144.8L328.0 147.6L331.0 150.4L334.0 153.2L337.0 156.0L340.0 158.8L343.0 161.6L346.0 164.3L349.0 167.1L352.0 169.8L355.0 172.5L358.0 175.4L361.0 178.3L364.0 181.3L367.0 184.2L370.0 187.2L373.0 190.1L376.0 193.0L379.0 195.8L382.0 198.7L385.0 201.5L388.0 204.4L391.0 207.2L394.0 210.1L397.0 212.9L400.0 215.7L403.0 218.6L406.0 221.5L409.0 224.5L412.0 227.4L415.0 230.1L418.0 232.7L421.0 235.4L424.0 238.1L427.0 240.8L430.0 243.5L433.0 246.2L436.0 248.9L439.0 251.6L442.0 254.2L445.0 256.8L448.0 259.3L451.0 261.9L454.0 264.4L457.0 267.0L460.0 269.5L463.0 271.9L466.0 274.3L469.0 276.5L472.0 278.8L475.0 281.0L478.0 283.3L481.0 285.5L484.0 287.8L487.0 290.0L490.0 292.1L493.0 294.2L496.0 296.1L499.0 297.9L502.0 299.6L505.0 301.2L505.5 301.5L508.0 300.3L511.0 298.7L514.0 297.1L517.0 295.3L520.0 293.4L523.0 291.4L526.0 289.3L529.0 287.3L532.0 285.2L535.0 283.0L538.0 280.8L541.0 278.6L544.0 276.3L547.0 273.9L550.0 271.4L553.0 268.8L556.0 266.1L559.0 263.4L562.0 260.5L565.0 257.2L568.0 253.5" stroke="url(#g10)" stroke-width="0.9" fill="none"/>
<path d="M100.0 33.4L103.0 33.4L106.0 33.4L109.0 33.4L112.0 33.4L115.0 33.4L118.0 33.4L121.0 33.4L124.0 33.4L127.0 33.5L130.0 33.5L133.0 33.6L136.0 33.6L139.0 33.7L142.0 33.8L145.0 33.9L148.0 34.1L151.0 34.6L154.0 35.0L157.0 35.5L160.0 36.1L163.0 36.7L166.0 37.4L169.0 38.1L172.0 38.9L175.0 39.7L178.0 40.5L181.0 41.4L184.0 42.4L187.0 43.4L190.0 44.5L193.0 45.6L196.0 46.8L199.0 47.9L202.0 49.0L205.0 50.2L208.0 51.5L211.0 52.9L214.0 54.4L217.0 55.9L220.0 57.3L223.0 58.8L226.0 60.4L229.0 62.2L232.0 64.0L235.0 65.9L238.0 67.8L241.0 69.8L244.0 71.7L247.0 73.7L250.0 75.6L253.0 77.6L256.0 79.6L259.0 81.6L262.0 83.7L265.0 85.9L268.0 88.1L271.0 90.4L274.0 92.6L277.0 94.9L280.0 97.1L283.0 99.4L286.0 101.7L289.0 103.9L292.0 106.2L295.0 108.8L298.0 111.5L301.0 114.3L304.0 117.0L307.0 119.7L310.0 122.4L313.0 125.1L316.0 127.9L319.0 130.7L322.0 133.4L325.0 136.2L328.0 139.0L331.0 141.8L334.0 144.6L337.0 147.4L340.0 150.2L343.0 153.0L346.0 155.7L349.0 158.5L352.0 161.2L355.0 163.9L358.0 166.8L361.0 169.7L364.0 172.7L367.0 175.6L370.0 178.6L373.0 181.5L376.0 184.3L379.0 187.2L382.0 190.0L385.0 192.9L388.0 195.7L391.0 198.6L394.0 201.4L397.0 204.3L400.0 207.1L403.0 210.0L406.0 212.9L409.0 215.9L412.0 218.8L415.0 221.5L418.0 224.1L421.0 226.8L424.0 229.5L427.0 232.2L430.0 234.9L433.0 237.6L436.0 240.3L439.0 243.0L442.0 245.6L445.0 248.2L448.0 250.7L451.0 253.2L454.0 255.8L457.0 258.4L460.0 260.9L463.0 263.3L466.0 265.7L469.0 267.9L472.0 270.2L475.0 272.4L478.0 274.7L481.0 276.9L484.0 279.2L487.0 281.3L490.0 283.5L493.0 285.6L496.0 287.5L499.0 289.3L502.0 291.0L505.0 292.6L505.5 292.9L508.0 291.7L511.0 290.1L514.0 288.5L517.0 286.7L520.0 284.8L523.0 282.7L526.0 280.7L529.0 278.7L532.0 276.5L535.0 274.4L538.0 272.2L541.0 270.0L544.0 267.7L547.0 265.3L550.0 262.8L553.0 260.2L556.0 257.5L559.0 254.8L562.0 251.9L565.0 248.6L568.0 244.9L571.0 241.1L574.0 237.3" stroke="url(#g11)" stroke-width="0.9" fill="none"/>
<path d="M100.0 0.2L103.0 0.2L106.0 0.2L109.0 0.2L112.0 0.2L115.0 0.2L118.0 0.2L121.0 0.2L124.0 0.2L127.0 0.3L130.0 0.3L133.0 0.3L136.0 0.4L139.0 0.5L142.0 0.6L145.0 0.7L148.0 0.9L151.0 1.3L154.0 1.8L157.0 2.3L160.0 2.9L163.0 3.5L166.0 4.2L169.0 4.9L172.0 5.7L175.0 6.5L178.0 7.3L181.0 8.2L184.0 9.2L187.0 10.2L190.0 11.3L193.0 12.4L196.0 13.6L199.0 14.7L202.0 15.8L205.0 17.0L208.0 18.3L211.0 19.7L214.0 21.2L217.0 22.6L220.0 24.1L223.0 25.6L226.0 27.2L229.0 29.0L232.0 30.8L235.0 32.7L238.0 34.6L241.0 36.6L244.0 38.5L247.0 40.5L250.0 42.4L253.0 44.3L256.0 46.4L259.0 48.4L262.0 50.5L265.0 52.7L268.0 54.9L271.0 57.2L274.0 59.4L277.0 61.7L280.0 63.9L283.0 66.2L286.0 68.4L289.0 70.7L292.0 73.0L295.0 75.5L298.0 78.3L301.0 81.1L304.0 83.8L307.0 86.5L310.0 89.2L313.0 91.9L316.0 94.7L319.0 97.5L322.0 100.2L325.0 103.0L328.0 105.8L331.0 108.6L334.0 111.4L337.0 114.2L340.0 117.0L343.0 119.8L346.0 122.5L349.0 125.3L352.0 128.0L355.0 130.7L358.0 133.6L361.0 136.5L364.0 139.5L367.0 142.4L370.0 145.3L373.0 148.3L376.0 151.1L379.0 154.0L382.0 156.8L385.0 159.7L388.0 162.5L391.0 165.4L394.0 168.2L397.0 171.1L400.0 173.9L403.0 176.7L406.0 179.7L409.0 182.7L412.0 185.5L415.0 188.2L418.0 190.9L421.0 193.6L424.0 196.3L427.0 199.0L430.0 201.7L433.0 204.4L436.0 207.1L439.0 209.8L442.0 212.4L445.0 215.0L448.0 217.5L451.0 220.0L454.0 222.6L457.0 225.2L460.0 227.7L463.0 230.1L466.0 232.5L469.0 234.7L472.0 236.9L475.0 239.2L478.0 241.4L481.0 243.7L484.0 246.0L487.0 248.1L490.0 250.3L493.0 252.4L496.0 254.3L499.0 256.1L502.0 257.8L505.0 259.4L505.5 259.7L508.0 258.5L511.0 256.9L514.0 255.3L517.0 253.5L520.0 251.5L523.0 249.5L526.0 247.5L529.0 245.4L532.0 243.3L535.0 241.2L538.0 239.0L541.0 236.8L544.0 234.5L547.0 232.1L550.0 229.5L553.0 227.0L556.0 224.3L559.0 221.6" stroke="url(#g12)" stroke-width="0.9" fill="none"/>
<path d="M100.0 173.2L103.0 173.2L106.0 173.2L109.0 173.2L112.0 173.2L115.0 173.2L118.0 173.2L121.0 173.2L124.0 173.2L127.0 173.3L130.0 173.3L133.0 173.4L136.0 173.4L139.0 173.5L142.0 173.6L145.0 173.7L148.0 174.0L151.0 174.4L154.0 174.8L157.0 175.3L160.0 175.9L163.0 176.6L166.0 177.2L169.0 177.9L172.0 178.7L175.0 179.5L178.0 180.3L181.0 181.2L184.0 182.2L187.0 183.2L190.0 184.3L193.0 185.4L196.0 186.6L199.0 187.7L202.0 188.8L205.0 190.0L208.0 191.3L211.0 192.8L214.0 194.2L217.0 195.7L220.0 197.1L223.0 198.6L226.0 200.3L229.0 202.0L232.0 203.8L235.0 205.7L238.0 207.6L241.0 209.6L244.0 211.5L247.0 213.5L250.0 215.4L253.0 217.4L256.0 219.4L259.0 221.4L262.0 223.5L265.0 225.7L268.0 227.9L271.0 230.2L274.0 232.4L277.0 234.7L280.0 236.9L283.0 239.2L286.0 241.5L289.0 243.7L292.0 246.1L295.0 248.6L298.0 251.3L301.0 254.1L304.0 256.8L307.0 259.5L310.0 262.2L313.0 264.9L316.0 267.7L319.0 270.5L322.0 273.3L325.0 276.0L328.0 278.8L331.0 281.6L334.0 284.4L337.0 287.2L340.0 290.0L343.0 292.8L346.0 295.5L349.0 298.3L352.0 301.0L355.0 303.7L358.0 306.6L361.0 309.5L364.0 312.5L367.0 315.4L370.0 318.4L373.0 321.3L376.0 324.2L379.0 327.0L382.0 329.9L385.0 332.7L388.0 335.6L391.0 338.4L394.0 341.2L397.0 344.1L400.0 346.9L403.0 349.8L406.0 352.7L409.0 355.7L412.0 358.6L415.0 361.3L418.0 363.9L421.0 366.6L424.0 369.3L427.0 372.0L430.0 374.7L433.0 377.4L436.0 380.1L439.0 382.8L442.0 385.4L445.0 388.0L448.0 390.5L451.0 393.1L454.0 395.6L457.0 398.2L460.0 400.7L463.0 403.1L466.0 405.5L469.0 407.7L472.0 410.0L475.0 412.2L478.0 414.5L481.0 416.7L484.0 419.0L487.0 421.2L490.0 423.3L493.0 425.4L496.0 427.3L499.0 429.1L502.0 430.8L505.0 432.4L505.5 432.7L508.0 431.5L511.0 429.9L514.0 428.3L517.0 426.5L520.0 424.6L523.0 422.6L526.0 420.5L529.0 418.5L532.0 416.4L535.0 414.2L538.0 412.0L541.0 409.8" stroke="url(#g13)" stroke-width="0.95" fill="none"/>
<path d="M100.0 189.6L103.0 189.6L106.0 189.6L109.0 189.6L112.0 189.6L115.0 189.6L118.0 189.6L121.0 189.6L124.0 189.6L127.0 189.7L130.0 189.7L133.0 189.8L136.0 189.8L139.0 189.9L142.0 190.0L145.0 190.1L148.0 190.4L151.0 190.8L154.0 191.2L157.0 191.7L160.0 192.3L163.0 193.0L166.0 193.6L169.0 194.3L172.0 195.1L175.0 195.9L178.0 196.7L181.0 197.6L184.0 198.6L187.0 199.6L190.0 200.7L193.0 201.8L196.0 203.0L199.0 204.1L202.0 205.2L205.0 206.4L208.0 207.7L211.0 209.2L214.0 210.6L217.0 212.1L220.0 213.5L223.0 215.0L226.0 216.7L229.0 218.4L232.0 220.2L235.0 222.1L238.0 224.0L241.0 226.0L244.0 227.9L247.0 229.9L250.0 231.8L253.0 233.8L256.0 235.8L259.0 237.8L262.0 239.9L265.0 242.1L268.0 244.3L271.0 246.6L274.0 248.8L277.0 251.1L280.0 253.3L283.0 255.6L286.0 257.9L289.0 260.1L292.0 262.5L295.0 265.0L298.0 267.7L301.0 270.5L304.0 273.2L307.0 275.9L310.0 278.6L313.0 281.3L316.0 284.1L319.0 286.9L322.0 289.7L325.0 292.4L328.0 295.2L331.0 298.0L334.0 300.8L337.0 303.6L340.0 306.4L343.0 309.2L346.0 311.9L349.0 314.7L352.0 317.4L355.0 320.1L358.0 323.0L361.0 325.9L364.0 328.9L367.0 331.8L370.0 334.8L373.0 337.7L376.0 340.6L379.0 343.4L382.0 346.3L385.0 349.1L388.0 352.0L391.0 354.8L394.0 357.7L397.0 360.5L400.0 363.3L403.0 366.2L406.0 369.1L409.0 372.1L412.0 375.0L415.0 377.7L418.0 380.3L421.0 383.0L424.0 385.7L427.0 388.4L430.0 391.1L433.0 393.8L436.0 396.5L439.0 399.2L442.0 401.8L445.0 404.4L448.0 406.9L451.0 409.5L454.0 412.0L457.0 414.6L460.0 417.1L463.0 419.5L466.0 421.9L469.0 424.1L472.0 426.4L475.0 428.6L478.0 430.9L481.0 433.1L484.0 435.4L487.0 437.6L490.0 439.7L493.0 441.8L496.0 443.7L499.0 445.5L502.0 447.2L505.0 448.8L505.5 449.1L508.0 447.9L511.0 446.3L514.0 444.7L517.0 442.9L520.0 441.0L523.0 439.0L526.0 436.9L529.0 434.9L532.0 432.8L535.0 430.6L538.0 428.4L541.0 426.2L544.0 423.9L547.0 421.5" stroke="url(#g14)" stroke-width="0.95" fill="none"/>
<path d="M100.0 206.0L103.0 206.0L106.0 206.0L109.0 206.0L112.0 206.0L115.0 206.0L118.0 206.0L121.0 206.0L124.0 206.0L127.0 206.1L130.0 206.1L133.0 206.2L136.0 206.2L139.0 206.3L142.0 206.4L145.0 206.5L148.0 206.8L151.0 207.2L154.0 207.6L157.0 208.1L160.0 208.7L163.0 209.4L166.0 210.0L169.0 210.7L172.0 211.5L175.0 212.3L178.0 213.1L181.0 214.0L184.0 215.0L187.0 216.0L190.0 217.1L193.0 218.2L196.0 219.4L199.0 220.5L202.0 221.6L205.0 222.8L208.0 224.1L211.0 225.6L214.0 227.0L217.0 228.5L220.0 229.9L223.0 231.4L226.0 233.1L229.0 234.8L232.0 236.6L235.0 238.5L238.0 240.4L241.0 242.4L244.0 244.3L247.0 246.3L250.0 248.2L253.0 250.2L256.0 252.2L259.0 254.2L262.0 256.3L265.0 258.5L268.0 260.7L271.0 263.0L274.0 265.2L277.0 267.5L280.0 269.7L283.0 272.0L286.0 274.3L289.0 276.5L292.0 278.9L295.0 281.4L298.0 284.1L301.0 286.9L304.0 289.6L307.0 292.3L310.0 295.0L313.0 297.7L316.0 300.5L319.0 303.3L322.0 306.1L325.0 308.8L328.0 311.6L331.0 314.4L334.0 317.2L337.0 320.0L340.0 322.8L343.0 325.6L346.0 328.3L349.0 331.1L352.0 333.8L355.0 336.5L358.0 339.4L361.0 342.3L364.0 345.3L367.0 348.2L370.0 351.2L373.0 354.1L376.0 357.0L379.0 359.8L382.0 362.7L385.0 365.5L388.0 368.4L391.0 371.2L394.0 374.1L397.0 376.9L400.0 379.7L403.0 382.6L406.0 385.5L409.0 388.5L412.0 391.4L415.0 394.1L418.0 396.7L421.0 399.4L424.0 402.1L427.0 404.8L430.0 407.5L433.0 410.2L436.0 412.9L439.0 415.6L442.0 418.2L445.0 420.8L448.0 423.3L451.0 425.9L454.0 428.4L457.0 431.0L460.0 433.5L463.0 435.9L466.0 438.3L469.0 440.5L472.0 442.8L475.0 445.0L478.0 447.3L481.0 449.5L484.0 451.8L487.0 454.0L490.0 456.1L493.0 458.2L496.0 460.1L499.0 461.9L502.0 463.6L505.0 465.2L505.5 465.5L508.0 464.3L511.0 462.7L514.0 461.1L517.0 459.3L520.0 457.4L523.0 455.4L526.0 453.3L529.0 451.3L532.0 449.2L535.0 447.0L538.0 444.8L541.0 442.6L544.0 440.3L547.0 437.9L550.0 435.4L553.0 432.8L556.0 430.1L559.0 427.4L562.0 424.5L565.0 421.2L568.0 417.5L571.0 413.7L574.0 409.9L577.0 405.9L580.0 401.8" stroke="url(#g15)" stroke-width="1.05" fill="none"/>
<path d="M100.0 222.4L103.0 222.4L106.0 222.4L109.0 222.4L112.0 222.4L115.0 222.4L118.0 222.4L121.0 222.4L124.0 222.4L127.0 222.5L130.0 222.5L133.0 222.6L136.0 222.6L139.0 222.7L142.0 222.8L145.0 222.9L148.0 223.2L151.0 223.6L154.0 224.0L157.0 224.5L160.0 225.1L163.0 225.8L166.0 226.4L169.0 227.1L172.0 227.9L175.0 228.7L178.0 229.5L181.0 230.4L184.0 231.4L187.0 232.4L190.0 233.5L193.0 234.6L196.0 235.8L199.0 236.9L202.0 238.0L205.0 239.2L208.0 240.5L211.0 242.0L214.0 243.4L217.0 244.9L220.0 246.3L223.0 247.8L226.0 249.5L229.0 251.2L232.0 253.0L235.0 254.9L238.0 256.8L241.0 258.8L244.0 260.7L247.0 262.7L250.0 264.6L253.0 266.6L256.0 268.6L259.0 270.6L262.0 272.7L265.0 274.9L268.0 277.1L271.0 279.4L274.0 281.6L277.0 283.9L280.0 286.1L283.0 288.4L286.0 290.7L289.0 292.9L292.0 295.3L295.0 297.8L298.0 300.5L301.0 303.3L304.0 306.0L307.0 308.7L310.0 311.4L313.0 314.1L316.0 316.9L319.0 319.7L322.0 322.5L325.0 325.2L328.0 328.0L331.0 330.8L334.0 333.6L337.0 336.4L340.0 339.2L343.0 342.0L346.0 344.7L349.0 347.5L352.0 350.2L355.0 352.9L358.0 355.8L361.0 358.7L364.0 361.7L367.0 364.6L370.0 367.6L373.0 370.5L376.0 373.4L379.0 376.2L382.0 379.1L385.0 381.9L388.0 384.8L391.0 387.6L394.0 390.4L397.0 393.3L400.0 396.1L403.0 399.0L406.0 401.9L409.0 404.9L412.0 407.8L415.0 410.5L418.0 413.1L421.0 415.8L424.0 418.5L427.0 421.2L430.0 423.9L433.0 426.6L436.0 429.3L439.0 432.0L442.0 434.6L445.0 437.2L448.0 439.7L451.0 442.3L454.0 444.8L457.0 447.4L460.0 449.9L463.0 452.3L466.0 454.7L469.0 456.9L472.0 459.2L475.0 461.4L478.0 463.7L481.0 465.9L484.0 468.2L487.0 470.4L490.0 472.5L493.0 474.6L496.0 476.5L499.0 478.3L502.0 480.0L505.0 481.6L505.5 481.9L508.0 480.7L511.0 479.1L514.0 477.5L517.0 475.7L520.0 473.8L523.0 471.8L526.0 469.7L529.0 467.7L532.0 465.6L535.0 463.4L538.0 461.2L541.0 459.0L544.0 456.7L547.0 454.3L550.0 451.8L553.0 449.2L556.0 446.5L559.0 443.8L562.0 440.9L565.0 437.6L568.0 433.9L571.0 430.1L574.0 426.3L577.0 422.3L580.0 418.2L583.0 413.9L586.0 409.7" stroke="url(#g16)" stroke-width="1.05" fill="none"/>
<path d="M100.0 238.8L103.0 238.8L106.0 238.8L109.0 238.8L112.0 238.8L115.0 238.8L118.0 238.8L121.0 238.8L124.0 238.8L127.0 238.9L130.0 238.9L133.0 239.0L136.0 239.0L139.0 239.1L142.0 239.2L145.0 239.3L148.0 239.6L151.0 240.0L154.0 240.4L157.0 240.9L160.0 241.5L163.0 242.2L166.0 242.8L169.0 243.5L172.0 244.3L175.0 245.1L178.0 245.9L181.0 246.8L184.0 247.8L187.0 248.8L190.0 249.9L193.0 251.0L196.0 252.2L199.0 253.3L202.0 254.4L205.0 255.6L208.0 256.9L211.0 258.4L214.0 259.8L217.0 261.3L220.0 262.7L223.0 264.2L226.0 265.9L229.0 267.6L232.0 269.4L235.0 271.3L238.0 273.2L241.0 275.2L244.0 277.1L247.0 279.1L250.0 281.0L253.0 283.0L256.0 285.0L259.0 287.0L262.0 289.1L265.0 291.3L268.0 293.5L271.0 295.8L274.0 298.0L277.0 300.3L280.0 302.5L283.0 304.8L286.0 307.1L289.0 309.3L292.0 311.7L295.0 314.2L298.0 316.9L301.0 319.7L304.0 322.4L307.0 325.1L310.0 327.8L313.0 330.5L316.0 333.3L319.0 336.1L322.0 338.9L325.0 341.6L328.0 344.4L331.0 347.2L334.0 350.0L337.0 352.8L340.0 355.6L343.0 358.4L346.0 361.1L349.0 363.9L352.0 366.6L355.0 369.3L358.0 372.2L361.0 375.1L364.0 378.1L367.0 381.0L370.0 384.0L373.0 386.9L376.0 389.8L379.0 392.6L382.0 395.5L385.0 398.3L388.0 401.2L391.0 404.0L394.0 406.9L397.0 409.7L400.0 412.5L403.0 415.4L406.0 418.3L409.0 421.3L412.0 424.2L415.0 426.9L418.0 429.5L421.0 432.2L424.0 434.9L427.0 437.6L430.0 440.3L433.0 443.0L436.0 445.7L439.0 448.4L442.0 451.0L445.0 453.6L448.0 456.1L451.0 458.7L454.0 461.2L457.0 463.8L460.0 466.3L463.0 468.7L466.0 471.1L469.0 473.3L472.0 475.6L475.0 477.8L478.0 480.1L481.0 482.3L484.0 484.6L487.0 486.8L490.0 488.9L493.0 491.0L496.0 492.9L499.0 494.7L502.0 496.4L505.0 498.0L505.5 498.3L508.0 497.1L511.0 495.5L514.0 493.9L517.0 492.1L520.0 490.2L523.0 488.2L526.0 486.1L529.0 484.1L532.0 482.0L535.0 479.8L538.0 477.6L541.0 475.4L544.0 473.1L547.0 470.7L550.0 468.2L553.0 465.6L556.0 462.9L559.0 460.2L562.0 457.3L565.0 454.0L568.0 450.3L571.0 446.5L574.0 442.7L577.0 438.7L580.0 434.6L583.0 430.3L586.0 426.1L589.0 421.9" stroke="url(#g17)" stroke-width="1.05" fill="none"/>
<path d="M100.0 255.2L103.0 255.2L106.0 255.2L109.0 255.2L112.0 255.2L115.0 255.2L118.0 255.2L121.0 255.2L124.0 255.2L127.0 255.3L130.0 255.3L133.0 255.4L136.0 255.4L139.0 255.5L142.0 255.6L145.0 255.7L148.0 256.0L151.0 256.4L154.0 256.8L157.0 257.3L160.0 257.9L163.0 258.6L166.0 259.2L169.0 259.9L172.0 260.7L175.0 261.5L178.0 262.3L181.0 263.2L184.0 264.2L187.0 265.2L190.0 266.3L193.0 267.4L196.0 268.6L199.0 269.7L202.0 270.8L205.0 272.0L208.0 273.3L211.0 274.8L214.0 276.2L217.0 277.7L220.0 279.1L223.0 280.6L226.0 282.3L229.0 284.0L232.0 285.8L235.0 287.7L238.0 289.6L241.0 291.6L244.0 293.5L247.0 295.5L250.0 297.4L253.0 299.4L256.0 301.4L259.0 303.4L262.0 305.5L265.0 307.7L268.0 309.9L271.0 312.2L274.0 314.4L277.0 316.7L280.0 318.9L283.0 321.2L286.0 323.5L289.0 325.7L292.0 328.1L295.0 330.6L298.0 333.3L301.0 336.1L304.0 338.8L307.0 341.5L310.0 344.2L313.0 346.9L316.0 349.7L319.0 352.5L322.0 355.3L325.0 358.0L328.0 360.8L331.0 363.6L334.0 366.4L337.0 369.2L340.0 372.0L343.0 374.8L346.0 377.5L349.0 380.3L352.0 383.0L355.0 385.7L358.0 388.6L361.0 391.5L364.0 394.5L367.0 397.4L370.0 400.4L373.0 403.3L376.0 406.2L379.0 409.0L382.0 411.9L385.0 414.7L388.0 417.6L391.0 420.4L394.0 423.2L397.0 426.1L400.0 428.9L403.0 431.8L406.0 434.7L409.0 437.7L412.0 440.6L415.0 443.3L418.0 445.9L421.0 448.6L424.0 451.3L427.0 454.0L430.0 456.7L433.0 459.4L436.0 462.1L439.0 464.8L442.0 467.4L445.0 470.0L448.0 472.5L451.0 475.1L454.0 477.6L457.0 480.2L460.0 482.7L463.0 485.1L466.0 487.5L469.0 489.7L472.0 492.0L475.0 494.2L478.0 496.5L481.0 498.7L484.0 501.0L487.0 503.2L490.0 505.3L493.0 507.4L496.0 509.3L499.0 511.1L502.0 512.8L505.0 514.4L505.5 514.7L508.0 513.5L511.0 511.9L514.0 510.3L517.0 508.5L520.0 506.6L523.0 504.6L526.0 502.5L529.0 500.5L532.0 498.4L535.0 496.2L538.0 494.0L541.0 491.8L544.0 489.5L547.0 487.1L550.0 484.6L553.0 482.0L556.0 479.3L559.0 476.6L562.0 473.7L565.0 470.4L568.0 466.7L571.0 462.9L574.0 459.1L577.0 455.1L580.0 451.0" stroke="url(#g18)" stroke-width="0.95" fill="none"/>
<path d="M100.0 271.6L103.0 271.6L106.0 271.6L109.0 271.6L112.0 271.6L115.0 271.6L118.0 271.6L121.0 271.6L124.0 271.6L127.0 271.7L130.0 271.7L133.0 271.8L136.0 271.8L139.0 271.9L142.0 272.0L145.0 272.1L148.0 272.4L151.0 272.8L154.0 273.2L157.0 273.7L160.0 274.3L163.0 275.0L166.0 275.6L169.0 276.3L172.0 277.1L175.0 277.9L178.0 278.7L181.0 279.6L184.0 280.6L187.0 281.6L190.0 282.7L193.0 283.8L196.0 285.0L199.0 286.1L202.0 287.2L205.0 288.4L208.0 289.7L211.0 291.2L214.0 292.6L217.0 294.1L220.0 295.5L223.0 297.0L226.0 298.7L229.0 300.4L232.0 302.2L235.0 304.1L238.0 306.0L241.0 308.0L244.0 309.9L247.0 311.9L250.0 313.8L253.0 315.8L256.0 317.8L259.0 319.8L262.0 321.9L265.0 324.1L268.0 326.3L271.0 328.6L274.0 330.8L277.0 333.1L280.0 335.3L283.0 337.6L286.0 339.9L289.0 342.1L292.0 344.5L295.0 347.0L298.0 349.7L301.0 352.5L304.0 355.2L307.0 357.9L310.0 360.6L313.0 363.3L316.0 366.1L319.0 368.9L322.0 371.7L325.0 374.4L328.0 377.2L331.0 380.0L334.0 382.8L337.0 385.6L340.0 388.4L343.0 391.2L346.0 393.9L349.0 396.7L352.0 399.4L355.0 402.1L358.0 405.0L361.0 407.9L364.0 410.9L367.0 413.8L370.0 416.8L373.0 419.7L376.0 422.6L379.0 425.4L382.0 428.3L385.0 431.1L388.0 434.0L391.0 436.8L394.0 439.6L397.0 442.5L400.0 445.3L403.0 448.2L406.0 451.1L409.0 454.1L412.0 457.0L415.0 459.7L418.0 462.3L421.0 465.0L424.0 467.7L427.0 470.4L430.0 473.1L433.0 475.8L436.0 478.5L439.0 481.2L442.0 483.8L445.0 486.4L448.0 488.9L451.0 491.5L454.0 494.0L457.0 496.6L460.0 499.1L463.0 501.5L466.0 503.9L469.0 506.1L472.0 508.4L475.0 510.6L478.0 512.9L481.0 515.1L484.0 517.4L487.0 519.6L490.0 521.7L493.0 523.8L496.0 525.7L499.0 527.5L502.0 529.2L505.0 530.8L505.5 531.1L508.0 529.9L511.0 528.3L514.0 526.7L517.0 524.9L520.0 523.0L523.0 521.0L526.0 518.9L529.0 516.9L532.0 514.8L535.0 512.6L538.0 510.4L541.0 508.2L544.0 505.9L547.0 503.5L550.0 501.0L553.0 498.4L556.0 495.7L559.0 493.0L562.0 490.1L565.0 486.8L568.0 483.1L571.0 479.3L574.0 475.5" stroke="url(#g19)" stroke-width="0.95" fill="none"/>
<path d="M100.0 288.0L103.0 288.0L106.0 288.0L109.0 288.0L112.0 288.0L115.0 288.0L118.0 288.0L121.0 288.0L124.0 288.0L127.0 288.1L130.0 288.1L133.0 288.2L136.0 288.2L139.0 288.3L142.0 288.4L145.0 288.5L148.0 288.8L151.0 289.2L154.0 289.6L157.0 290.1L160.0 290.7L163.0 291.4L166.0 292.0L169.0 292.7L172.0 293.5L175.0 294.3L178.0 295.1L181.0 296.0L184.0 297.0L187.0 298.0L190.0 299.1L193.0 300.2L196.0 301.4L199.0 302.5L202.0 303.6L205.0 304.8L208.0 306.1L211.0 307.6L214.0 309.0L217.0 310.5L220.0 311.9L223.0 313.4L226.0 315.1L229.0 316.8L232.0 318.6L235.0 320.5L238.0 322.4L241.0 324.4L244.0 326.3L247.0 328.3L250.0 330.2L253.0 332.2L256.0 334.2L259.0 336.2L262.0 338.3L265.0 340.5L268.0 342.7L271.0 345.0L274.0 347.2L277.0 349.5L280.0 351.7L283.0 354.0L286.0 356.3L289.0 358.5L292.0 360.9L295.0 363.4L298.0 366.1L301.0 368.9L304.0 371.6L307.0 374.3L310.0 377.0L313.0 379.7L316.0 382.5L319.0 385.3L322.0 388.1L325.0 390.8L328.0 393.6L331.0 396.4L334.0 399.2L337.0 402.0L340.0 404.8L343.0 407.6L346.0 410.3L349.0 413.1L352.0 415.8L355.0 418.5L358.0 421.4L361.0 424.3L364.0 427.3L367.0 430.2L370.0 433.2L373.0 436.1L376.0 439.0L379.0 441.8L382.0 444.7L385.0 447.5L388.0 450.4L391.0 453.2L394.0 456.1L397.0 458.9L400.0 461.7L403.0 464.6L406.0 467.5L409.0 470.5L412.0 473.4L415.0 476.1L418.0 478.7L421.0 481.4L424.0 484.1L427.0 486.8L430.0 489.5L433.0 492.2L436.0 494.9L439.0 497.6L442.0 500.2L445.0 502.8L448.0 505.3L451.0 507.9L454.0 510.4L457.0 513.0L460.0 515.5L463.0 517.9L466.0 520.3L469.0 522.5L472.0 524.8L475.0 527.0L478.0 529.3L481.0 531.5L484.0 533.8L487.0 536.0L490.0 538.1L493.0 540.2L496.0 542.1L499.0 543.9L502.0 545.6L505.0 547.2L505.5 547.5L508.0 546.3L511.0 544.7L514.0 543.1L517.0 541.3L520.0 539.4L523.0 537.4L526.0 535.3L529.0 533.3L532.0 531.2L535.0 529.0L538.0 526.8L541.0 524.6L544.0 522.3L547.0 519.9L550.0 517.4L553.0 514.8L556.0 512.1L559.0 509.4L562.0 506.5L565.0 503.2L568.0 499.5" stroke="url(#g20)" stroke-width="0.9" fill="none"/>
<path d="M100.0 296.6L103.0 296.6L106.0 296.6L109.0 296.6L112.0 296.6L115.0 296.6L118.0 296.6L121.0 296.6L124.0 296.7L127.0 296.7L130.0 296.7L133.0 296.8L136.0 296.8L139.0 296.9L142.0 297.0L145.0 297.1L148.0 297.4L151.0 297.8L154.0 298.3L157.0 298.7L160.0 299.3L163.0 300.0L166.0 300.6L169.0 301.3L172.0 302.1L175.0 302.9L178.0 303.8L181.0 304.6L184.0 305.6L187.0 306.6L190.0 307.7L193.0 308.9L196.0 310.0L199.0 311.1L202.0 312.2L205.0 313.4L208.0 314.7L211.0 316.2L214.0 317.6L217.0 319.1L220.0 320.5L223.0 322.0L226.0 323.7L229.0 325.4L232.0 327.2L235.0 329.1L238.0 331.0L241.0 333.0L244.0 335.0L247.0 336.9L250.0 338.8L253.0 340.8L256.0 342.8L259.0 344.8L262.0 347.0L265.0 349.1L268.0 351.3L271.0 353.6L274.0 355.9L277.0 358.1L280.0 360.3L283.0 362.6L286.0 364.9L289.0 367.1L292.0 369.5L295.0 372.0L298.0 374.8L301.0 377.5L304.0 380.2L307.0 382.9L310.0 385.6L313.0 388.4L316.0 391.1L319.0 393.9L322.0 396.7L325.0 399.5L328.0 402.2L331.0 405.0L334.0 407.8L337.0 410.6L340.0 413.4L343.0 416.2L346.0 419.0L349.0 421.7L352.0 424.4L355.0 427.1L358.0 430.0L361.0 433.0L364.0 435.9L367.0 438.9L370.0 441.8L373.0 444.7L376.0 447.6L379.0 450.4L382.0 453.3L385.0 456.1L388.0 459.0L391.0 461.8L394.0 464.7L397.0 467.5L400.0 470.3L403.0 473.2L406.0 476.1L409.0 479.1L412.0 482.0L415.0 484.7L418.0 487.3L421.0 490.0L424.0 492.7L427.0 495.4L430.0 498.1L433.0 500.8L436.0 503.5L439.0 506.2L442.0 508.8L445.0 511.4L448.0 513.9L451.0 516.5L454.0 519.0L457.0 521.6L460.0 524.1L463.0 526.5L466.0 528.9L469.0 531.1L472.0 533.4L475.0 535.6L478.0 537.9L481.0 540.1L484.0 542.4L487.0 544.6L490.0 546.7L493.0 548.8L496.0 550.7L499.0 552.5L502.0 554.3L505.0 555.9L505.5 556.1L508.0 554.9L511.0 553.3L514.0 551.7L517.0 549.9L520.0 548.0L523.0 546.0L526.0 543.9L529.0 541.9L532.0 539.8L535.0 537.6L538.0 535.4L541.0 533.2L544.0 530.9L547.0 528.5L550.0 526.0L553.0 523.4L556.0 520.7L559.0 518.0L562.0 515.1L565.0 511.8L568.0 508.1L571.0 504.4L574.0 500.5" stroke="url(#g21)" stroke-width="0.9" fill="none"/>
<path d="M100.0 329.8L103.0 329.8L106.0 329.8L109.0 329.8L112.0 329.8L115.0 329.8L118.0 329.8L121.0 329.8L124.0 329.9L127.0 329.9L130.0 329.9L133.0 330.0L136.0 330.0L139.0 330.1L142.0 330.2L145.0 330.3L148.0 330.6L151.0 331.0L154.0 331.5L157.0 332.0L160.0 332.5L163.0 333.2L166.0 333.8L169.0 334.6L172.0 335.3L175.0 336.1L178.0 337.0L181.0 337.8L184.0 338.8L187.0 339.8L190.0 340.9L193.0 342.1L196.0 343.2L199.0 344.3L202.0 345.4L205.0 346.6L208.0 347.9L211.0 349.4L214.0 350.8L217.0 352.3L220.0 353.7L223.0 355.3L226.0 356.9L229.0 358.6L232.0 360.5L235.0 362.3L238.0 364.2L241.0 366.2L244.0 368.2L247.0 370.1L250.0 372.0L253.0 374.0L256.0 376.0L259.0 378.1L262.0 380.2L265.0 382.3L268.0 384.5L271.0 386.8L274.0 389.1L277.0 391.3L280.0 393.6L283.0 395.8L286.0 398.1L289.0 400.3L292.0 402.7L295.0 405.2L298.0 408.0L301.0 410.7L304.0 413.4L307.0 416.1L310.0 418.8L313.0 421.6L316.0 424.3L319.0 427.1L322.0 429.9L325.0 432.7L328.0 435.5L331.0 438.3L334.0 441.0L337.0 443.8L340.0 446.6L343.0 449.4L346.0 452.2L349.0 454.9L352.0 457.6L355.0 460.3L358.0 463.2L361.0 466.2L364.0 469.1L367.0 472.1L370.0 475.0L373.0 477.9L376.0 480.8L379.0 483.6L382.0 486.5L385.0 489.3L388.0 492.2L391.0 495.0L394.0 497.9L397.0 500.7L400.0 503.5L403.0 506.4L406.0 509.3L409.0 512.3L412.0 515.2L415.0 517.9L418.0 520.5L421.0 523.2L424.0 525.9L427.0 528.6L430.0 531.3L433.0 534.0L436.0 536.8L439.0 539.4L442.0 542.1L445.0 544.6L448.0 547.1L451.0 549.7L454.0 552.2L457.0 554.8L460.0 557.3L463.0 559.7L466.0 562.1L469.0 564.4L472.0 566.6L475.0 568.8L478.0 571.1L481.0 573.4L484.0 575.6L487.0 577.8L490.0 579.9L493.0 582.0L496.0 583.9L499.0 585.8L502.0 587.5L505.0 589.1L505.5 589.3L508.0 588.1L511.0 586.6L514.0 584.9L517.0 583.1L520.0 581.2L523.0 579.2L526.0 577.1L529.0 575.1L532.0 573.0L535.0 570.8L538.0 568.6L541.0 566.4L544.0 564.1L547.0 561.7L550.0 559.2L553.0 556.6L556.0 553.9L559.0 551.2" stroke="url(#g22)" stroke-width="0.9" fill="none"/>
<path d="M100.0 165.0L102.0 165.0L104.0 165.0L106.0 165.0L108.0 165.0L110.0 165.0L112.0 165.0L114.0 165.0L116.0 165.0L118.0 165.0L120.0 165.0L122.0 165.0L124.0 165.0L126.0 165.1L128.0 165.1L130.0 165.1L132.0 165.2L134.0 165.2L136.0 165.2L138.0 165.3L140.0 165.3L142.0 165.4L144.0 165.5L146.0 165.6L148.0 165.8L150.0 166.0L152.0 166.3L154.0 166.6L156.0 167.0L158.0 167.3L160.0 167.7L162.0 168.1L164.0 168.6L166.0 169.0L168.0 169.5L170.0 170.0L172.0 170.5L174.0 171.0L176.0 171.6L178.0 172.1L180.0 172.7L182.0 173.3L184.0 174.0L186.0 174.6L188.0 175.4L190.0 176.1L192.0 176.9L194.0 177.6L196.0 178.4L198.0 179.1L200.0 179.8L202.0 180.6L204.0 181.4L206.0 182.2L208.0 183.1L210.0 184.1L212.0 185.0L214.0 186.0L216.0 187.0L218.0 187.9L220.0 188.9L222.0 189.9L224.0 191.0L226.0 192.1L228.0 193.2L230.0 194.4L232.0 195.6L234.0 196.9L236.0 198.1L238.0 199.4L240.0 200.7L242.0 202.0L244.0 203.3L246.0 204.6L248.0 205.9L250.0 207.2L252.0 208.5L254.0 209.8L256.0 211.2L258.0 212.5L260.0 213.9L262.0 215.3L264.0 216.8L266.0 218.2L268.0 219.7L270.0 221.2L272.0 222.7L274.0 224.2L276.0 225.7L278.0 227.2L280.0 228.7L282.0 230.2L284.0 231.7L286.0 233.3L288.0 234.8L290.0 236.3L292.0 237.9L294.0 239.5L296.0 241.3L298.0 243.1L300.0 245.0L302.0 246.8L304.0 248.6L306.0 250.4L308.0 252.2L310.0 254.0L312.0 255.8L314.0 257.7L316.0 259.5L318.0 261.4L320.0 263.2L322.0 265.1L324.0 266.9L326.0 268.8L328.0 270.6L330.0 272.5L332.0 274.4L334.0 276.2L336.0 278.1L338.0 279.9L340.0 281.8L342.0 283.6L344.0 285.5L346.0 287.3L348.0 289.2L350.0 291.0L352.0 292.8L354.0 294.6L356.0 296.4L358.0 298.4L360.0 300.3L362.0 302.3L364.0 304.3L366.0 306.3L368.0 308.2L370.0 310.2L372.0 312.1L374.0 314.0L376.0 316.0L378.0 317.9L380.0 319.8L382.0 321.7L384.0 323.6L386.0 325.4L388.0 327.4L390.0 329.2L392.0 331.1L394.0 333.1L396.0 334.9L398.0 336.8L400.0 338.7L402.0 340.6L404.0 342.5L406.0 344.5L408.0 346.5L410.0 348.5L412.0 350.4L414.0 352.2L416.0 354.0L418.0 355.7L420.0 357.5L422.0 359.3L424.0 361.1L426.0 362.9L428.0 364.7L430.0 366.5L432.0 368.3L434.0 370.1L436.0 371.9L438.0 373.7L440.0 375.5L442.0 377.2L444.0 378.9L446.0 380.6L448.0 382.3L450.0 384.0L452.0 385.7L454.0 387.4L456.0 389.1L458.0 390.8L460.0 392.5L462.0 394.1L464.0 395.7L466.0 397.3L468.0 398.8L470.0 400.3L472.0 401.8L474.0 403.3L476.0 404.8L478.0 406.3L480.0 407.8L482.0 409.3L484.0 410.8L486.0 412.2L488.0 413.7L490.0 415.1L492.0 416.5L494.0 417.9L496.0 419.1L498.0 420.3L500.0 421.5L502.0 422.6L504.0 423.7L505.5 424.5L506.0 424.3L508.0 423.3L510.0 422.3L512.0 421.2L514.0 420.1L516.0 418.9L518.0 417.7L520.0 416.4L522.0 415.0L524.0 413.7L526.0 412.3L528.0 411.0L530.0 409.6L532.0 408.2L534.0 406.7L536.0 405.3L538.0 403.8L540.0 402.3L542.0 400.8L544.0 399.3L546.0 397.7L548.0 396.1L550.0 394.4L552.0 392.6L554.0 390.9L556.0 389.1L558.0 387.3L560.0 385.5L562.0 383.5L564.0 381.4L566.0 379.0L568.0 376.5L570.0 374.0L572.0 371.5L574.0 368.9L576.0 366.2L578.0 363.5L580.0 360.8L582.0 357.9L584.0 355.1L586.0 352.3L588.0 349.5L590.0 346.8L592.0 343.9L594.0 341.0L596.0 338.0L598.0 335.0L600.0 332.0L602.0 329.0L604.0 326.0L606.0 323.0L608.0 319.8L610.0 316.8L612.0 314.5L614.0 313.0L616.0 312.3L618.0 312.0L618.1 312.0" stroke="url(#g24)" stroke-width="2.8" fill="none"/>
<path d="M100.0 165.0L102.0 165.0L104.0 165.0L106.0 165.0L108.0 165.0L110.0 165.0L112.0 165.0L114.0 165.0L116.0 165.0L118.0 165.0L120.0 165.0L122.0 165.0L124.0 165.0L126.0 165.1L128.0 165.1L130.0 165.1L132.0 165.2L134.0 165.2L136.0 165.2L138.0 165.3L140.0 165.3L142.0 165.4L144.0 165.5L146.0 165.6L148.0 165.8L150.0 166.0L152.0 166.3L154.0 166.6L156.0 167.0L158.0 167.3L160.0 167.7L162.0 168.1L164.0 168.6L166.0 169.0L168.0 169.5L170.0 170.0L172.0 170.5L174.0 171.0L176.0 171.6L178.0 172.1L180.0 172.7L182.0 173.3L184.0 174.0L186.0 174.6L188.0 175.4L190.0 176.1L192.0 176.9L194.0 177.6L196.0 178.4L198.0 179.1L200.0 179.8L202.0 180.6L204.0 181.4L206.0 182.2L208.0 183.1L210.0 184.1L212.0 185.0L214.0 186.0L216.0 187.0L218.0 187.9L220.0 188.9L222.0 189.9L224.0 191.0L226.0 192.1L228.0 193.2L230.0 194.4L232.0 195.6L234.0 196.9L236.0 198.1L238.0 199.4L240.0 200.7L242.0 202.0L244.0 203.3L246.0 204.6L248.0 205.9L250.0 207.2L252.0 208.5L254.0 209.8L256.0 211.2L258.0 212.5L260.0 213.9L262.0 215.3L264.0 216.8L266.0 218.2L268.0 219.7L270.0 221.2L272.0 222.7L274.0 224.2L276.0 225.7L278.0 227.2L280.0 228.7L282.0 230.2L284.0 231.7L286.0 233.3L288.0 234.8L290.0 236.3L292.0 237.9L294.0 239.5L296.0 241.3L298.0 243.1L300.0 245.0L302.0 246.8L304.0 248.6L306.0 250.4L308.0 252.2L310.0 254.0L312.0 255.8L314.0 257.7L316.0 259.5L318.0 261.4L320.0 263.2L322.0 265.1L324.0 266.9L326.0 268.8L328.0 270.6L330.0 272.5L332.0 274.4L334.0 276.2L336.0 278.1L338.0 279.9L340.0 281.8L342.0 283.6L344.0 285.5L346.0 287.3L348.0 289.2L350.0 291.0L352.0 292.8L354.0 294.6L356.0 296.4L358.0 298.4L360.0 300.3L362.0 302.3L364.0 304.3L366.0 306.3L368.0 308.2L370.0 310.2L372.0 312.1L374.0 314.0L376.0 316.0L378.0 317.9L380.0 319.8L382.0 321.7L384.0 323.6L386.0 325.4L388.0 327.4L390.0 329.2L392.0 331.1L394.0 333.1L396.0 334.9L398.0 336.8L400.0 338.7L402.0 340.6L404.0 342.5L406.0 344.5L408.0 346.5L410.0 348.5L412.0 350.4L414.0 352.2L416.0 354.0L418.0 355.7L420.0 357.5L422.0 359.3L424.0 361.1L426.0 362.9L428.0 364.7L430.0 366.5L432.0 368.3L434.0 370.1L436.0 371.9L438.0 373.7L440.0 375.5L442.0 377.2L444.0 378.9L446.0 380.6L448.0 382.3L450.0 384.0L452.0 385.7L454.0 387.4L456.0 389.1L458.0 390.8L460.0 392.5L462.0 394.1L464.0 395.7L466.0 397.3L468.0 398.8L470.0 400.3L472.0 401.8L474.0 403.3L476.0 404.8L478.0 406.3L480.0 407.8L482.0 409.3L484.0 410.8L486.0 412.2L488.0 413.7L490.0 415.1L492.0 416.5L494.0 417.9L496.0 419.1L498.0 420.3L500.0 421.5L502.0 422.6L504.0 423.7L505.5 424.5L506.0 424.3L508.0 423.3L510.0 422.3L512.0 421.2L514.0 420.1L516.0 418.9L518.0 417.7L520.0 416.4L522.0 415.0L524.0 413.7L526.0 412.3L528.0 411.0L530.0 409.6L532.0 408.2L534.0 406.7L536.0 405.3L538.0 403.8L540.0 402.3L542.0 400.8L544.0 399.3L546.0 397.7L548.0 396.1L550.0 394.4L552.0 392.6L554.0 390.9L556.0 389.1L558.0 387.3L560.0 385.5L562.0 383.5L564.0 381.4L566.0 379.0L568.0 376.5L570.0 374.0L572.0 371.5L574.0 368.9L576.0 366.2L578.0 363.5L580.0 360.8L582.0 357.9L584.0 355.1L586.0 352.3L588.0 349.5L590.0 346.8L592.0 343.9L594.0 341.0L596.0 338.0L598.0 335.0L600.0 332.0L602.0 329.0L604.0 326.0L606.0 323.0L608.0 319.8L610.0 316.8L612.0 314.5L614.0 313.0L616.0 312.3L618.0 312.0L618.1 312.0" stroke="url(#g23)" stroke-width="1.45" fill="none"/>
<path d="M618.1 303.8L624.1 303.8L630.1 303.9L636.1 303.9L642.1 303.9L648.1 304.0L654.1 304.0L660.1 304.1L666.1 304.2L672.1 304.2L678.1 304.3L684.1 304.3L690.1 304.4L696.1 304.5L702.1 304.5L708.1 304.6L714.1 304.7L720.1 304.8L726.1 304.9L732.1 305.0L738.1 305.1L744.1 305.1L750.1 305.2L756.1 305.3L762.1 305.4L768.1 305.5L774.1 305.6L780.1 305.7L786.1 305.8L792.1 305.9L798.1 306.0L804.1 306.1L810.1 306.1L816.1 306.2L822.1 306.3L828.1 306.4L834.1 306.5L840.1 306.6L846.1 306.7L852.1 306.8L858.1 306.9L864.1 307.0L870.1 307.1L876.1 307.2L882.1 307.3L888.1 307.5L890.0 307.5" stroke="#38a088" stroke-opacity="0.42" stroke-width="0.85" fill="none"/>
<path d="M618.1 287.4L624.1 287.4L630.1 287.5L636.1 287.5L642.1 287.5L648.1 287.6L654.1 287.6L660.1 287.7L666.1 287.8L672.1 287.8L678.1 287.9L684.1 287.9L690.1 288.0L696.1 288.1L702.1 288.1L708.1 288.2L714.1 288.3L720.1 288.4L726.1 288.5L732.1 288.6L738.1 288.7L744.1 288.7L750.1 288.8L756.1 288.9L762.1 289.0L768.1 289.1L774.1 289.2L780.1 289.3L786.1 289.4L792.1 289.5L798.1 289.6L804.1 289.7L810.1 289.7L816.1 289.8L822.1 289.9L828.1 290.0L834.1 290.1L840.1 290.2L846.1 290.3L852.1 290.4L858.1 290.5L864.1 290.6L870.1 290.7L876.1 290.8L882.1 290.9L888.1 291.1L890.0 291.1" stroke="#58a860" stroke-opacity="0.43" stroke-width="0.85" fill="none"/>
<path d="M618.1 271.0L624.1 271.0L630.1 271.1L636.1 271.1L642.1 271.1L648.1 271.2L654.1 271.2L660.1 271.3L666.1 271.4L672.1 271.4L678.1 271.5L684.1 271.5L690.1 271.6L696.1 271.7L702.1 271.7L708.1 271.8L714.1 271.9L720.1 272.0L726.1 272.1L732.1 272.2L738.1 272.3L744.1 272.3L750.1 272.4L756.1 272.5L762.1 272.6L768.1 272.7L774.1 272.8L780.1 272.9L786.1 273.0L792.1 273.1L798.1 273.2L804.1 273.3L810.1 273.3L816.1 273.4L822.1 273.5L828.1 273.6L834.1 273.7L840.1 273.8L846.1 273.9L852.1 274.0L858.1 274.1L864.1 274.2L870.1 274.3L876.1 274.4L882.1 274.5L888.1 274.7L890.0 274.7" stroke="#8c1a14" stroke-opacity="0.5" stroke-width="0.8" fill="none"/>
<path d="M618.1 271.0L624.1 271.0L630.1 271.1L636.1 271.1L642.1 271.1L648.1 271.2L654.1 271.2L660.1 271.3L666.1 271.4L672.1 271.4L678.1 271.5L684.1 271.5L690.1 271.6L696.1 271.7L702.1 271.7L708.1 271.8L714.1 271.9L720.1 272.0L726.1 272.1L732.1 272.2L738.1 272.3L744.1 272.3L750.1 272.4L756.1 272.5L762.1 272.6L768.1 272.7L774.1 272.8L780.1 272.9L786.1 273.0L792.1 273.1L798.1 273.2L804.1 273.3L810.1 273.3L816.1 273.4L822.1 273.5L828.1 273.6L834.1 273.7L840.1 273.8L846.1 273.9L852.1 274.0L858.1 274.1L864.1 274.2L870.1 274.3L876.1 274.4L882.1 274.5L888.1 274.7L890.0 274.7" stroke="#7f8ad0" stroke-opacity="0.4" stroke-width="0.9" fill="none" stroke-dasharray="2.4 3.27"/>
<path d="M618.1 254.6L624.1 254.6L630.1 254.7L636.1 254.7L642.1 254.7L648.1 254.8L654.1 254.8L660.1 254.9L666.1 255.0L672.1 255.0L678.1 255.1L684.1 255.1L690.1 255.2L696.1 255.3L702.1 255.3L708.1 255.4L714.1 255.5L720.1 255.6L726.1 255.7L732.1 255.8L738.1 255.9L744.1 255.9L750.1 256.0L756.1 256.1L762.1 256.2L768.1 256.3L774.1 256.4L780.1 256.5L786.1 256.6L792.1 256.7L798.1 256.8L804.1 256.9L810.1 256.9L816.1 257.0L822.1 257.1L828.1 257.2L834.1 257.3L840.1 257.4L846.1 257.5L852.1 257.6L858.1 257.7L864.1 257.8L870.1 257.9L876.1 258.0L882.1 258.1L888.1 258.3L890.0 258.3" stroke="#6a1420" stroke-opacity="0.25" stroke-width="0.9" fill="none"/>
<path d="M618.1 254.6L624.1 254.6L630.1 254.7L636.1 254.7L642.1 254.7L648.1 254.8L654.1 254.8L660.1 254.9L666.1 255.0L672.1 255.0L678.1 255.1L684.1 255.1L690.1 255.2L696.1 255.3L702.1 255.3L708.1 255.4L714.1 255.5L720.1 255.6L726.1 255.7L732.1 255.8L738.1 255.9L744.1 255.9L750.1 256.0L756.1 256.1L762.1 256.2L768.1 256.3L774.1 256.4L780.1 256.5L786.1 256.6L792.1 256.7L798.1 256.8L804.1 256.9L810.1 256.9L816.1 257.0L822.1 257.1L828.1 257.2L834.1 257.3L840.1 257.4L846.1 257.5L852.1 257.6L858.1 257.7L864.1 257.8L870.1 257.9L876.1 258.0L882.1 258.1L888.1 258.3L890.0 258.3" stroke="#7585e0" stroke-opacity="0.44" stroke-width="1.0" fill="none" stroke-dasharray="3 2.67"/>
<path d="M618.1 238.2L624.1 238.2L630.1 238.3L636.1 238.3L642.1 238.3L648.1 238.4L654.1 238.4L660.1 238.5L666.1 238.6L672.1 238.6L678.1 238.7L684.1 238.7L690.1 238.8L696.1 238.9L702.1 238.9L708.1 239.0L714.1 239.1L720.1 239.2L726.1 239.3L732.1 239.4L738.1 239.5L744.1 239.5L750.1 239.6L756.1 239.7L762.1 239.8L768.1 239.9L774.1 240.0L780.1 240.1L786.1 240.2L792.1 240.3L798.1 240.4L804.1 240.5L810.1 240.5L816.1 240.6L822.1 240.7L828.1 240.8L834.1 240.9L840.1 241.0L846.1 241.1L852.1 241.2L858.1 241.3L864.1 241.4L870.1 241.5L876.1 241.6L882.1 241.7L888.1 241.9L890.0 241.9" stroke="#6a1420" stroke-opacity="0.25" stroke-width="0.9" fill="none"/>
<path d="M618.1 238.2L624.1 238.2L630.1 238.3L636.1 238.3L642.1 238.3L648.1 238.4L654.1 238.4L660.1 238.5L666.1 238.6L672.1 238.6L678.1 238.7L684.1 238.7L690.1 238.8L696.1 238.9L702.1 238.9L708.1 239.0L714.1 239.1L720.1 239.2L726.1 239.3L732.1 239.4L738.1 239.5L744.1 239.5L750.1 239.6L756.1 239.7L762.1 239.8L768.1 239.9L774.1 240.0L780.1 240.1L786.1 240.2L792.1 240.3L798.1 240.4L804.1 240.5L810.1 240.5L816.1 240.6L822.1 240.7L828.1 240.8L834.1 240.9L840.1 241.0L846.1 241.1L852.1 241.2L858.1 241.3L864.1 241.4L870.1 241.5L876.1 241.6L882.1 241.7L888.1 241.9L890.0 241.9" stroke="#7d8de6" stroke-opacity="0.47" stroke-width="1.0" fill="none" stroke-dasharray="3 2.67"/>
<path d="M618.1 221.8L624.1 221.8L630.1 221.9L636.1 221.9L642.1 221.9L648.1 222.0L654.1 222.0L660.1 222.1L666.1 222.2L672.1 222.2L678.1 222.3L684.1 222.3L690.1 222.4L696.1 222.5L702.1 222.5L708.1 222.6L714.1 222.7L720.1 222.8L726.1 222.9L732.1 223.0L738.1 223.1L744.1 223.1L750.1 223.2L756.1 223.3L762.1 223.4L768.1 223.5L774.1 223.6L780.1 223.7L786.1 223.8L792.1 223.9L798.1 224.0L804.1 224.1L810.1 224.1L816.1 224.2L822.1 224.3L828.1 224.4L834.1 224.5L840.1 224.6L846.1 224.7L852.1 224.8L858.1 224.9L864.1 225.0L870.1 225.1L876.1 225.2L882.1 225.3L888.1 225.5L890.0 225.5" stroke="#48a870" stroke-opacity="0.42" stroke-width="0.85" fill="none"/>
<path d="M618.1 205.4L624.1 205.4L630.1 205.5L636.1 205.5L642.1 205.5L648.1 205.6L654.1 205.6L660.1 205.7L666.1 205.8L672.1 205.8L678.1 205.9L684.1 205.9L690.1 206.0L696.1 206.1L702.1 206.1L708.1 206.2L714.1 206.3L720.1 206.4L726.1 206.5L732.1 206.6L738.1 206.7L744.1 206.7L750.1 206.8L756.1 206.9L762.1 207.0L768.1 207.1L774.1 207.2L780.1 207.3L786.1 207.4L792.1 207.5L798.1 207.6L804.1 207.7L810.1 207.7L816.1 207.8L822.1 207.9L828.1 208.0L834.1 208.1L840.1 208.2L846.1 208.3L852.1 208.4L858.1 208.5L864.1 208.6L870.1 208.7L876.1 208.8L882.1 208.9L888.1 209.1L890.0 209.1" stroke="#4559cb" stroke-opacity="0.3" stroke-width="0.9" fill="none"/>
<path d="M618.1 189.0L624.1 189.0L630.1 189.1L636.1 189.1L642.1 189.1L648.1 189.2L654.1 189.2L660.1 189.3L666.1 189.4L672.1 189.4L678.1 189.5L684.1 189.5L690.1 189.6L696.1 189.7L702.1 189.7L708.1 189.8L714.1 189.9L720.1 190.0L726.1 190.1L732.1 190.2L738.1 190.3L744.1 190.3L750.1 190.4L756.1 190.5L762.1 190.6L768.1 190.7L774.1 190.8L780.1 190.9L786.1 191.0L792.1 191.1L798.1 191.2L804.1 191.3L810.1 191.3L816.1 191.4L822.1 191.5L828.1 191.6L834.1 191.7L840.1 191.8L846.1 191.9L852.1 192.0L858.1 192.1L864.1 192.2L870.1 192.3L876.1 192.4L882.1 192.5L888.1 192.7L890.0 192.7" stroke="#4143a7" stroke-opacity="0.12" stroke-width="0.9" fill="none"/>
<path d="M618.1 180.4L624.1 180.4L630.1 180.5L636.1 180.5L642.1 180.5L648.1 180.6L654.1 180.6L660.1 180.7L666.1 180.7L672.1 180.8L678.1 180.9L684.1 180.9L690.1 181.0L696.1 181.0L702.1 181.1L708.1 181.2L714.1 181.3L720.1 181.4L726.1 181.4L732.1 181.5L738.1 181.6L744.1 181.7L750.1 181.8L756.1 181.9L762.1 182.0L768.1 182.1L774.1 182.2L780.1 182.3L786.1 182.4L792.1 182.5L798.1 182.6L804.1 182.6L810.1 182.7L816.1 182.8L822.1 182.9L828.1 183.0L834.1 183.1L840.1 183.2L846.1 183.3L852.1 183.4L858.1 183.5L864.1 183.6L870.1 183.7L876.1 183.8L882.1 183.9L888.1 184.0L890.0 184.1" stroke="#4559cb" stroke-opacity="0.28" stroke-width="0.9" fill="none"/>
<path d="M618.1 150.5L624.1 150.5L630.1 150.5L636.1 150.6L642.1 150.6L648.1 150.7L654.1 150.7L660.1 150.8L666.1 150.8L672.1 150.9L678.1 150.9L684.1 151.0L690.1 151.1L696.1 151.1L702.1 151.2L708.1 151.3L714.1 151.3L720.1 151.4L726.1 151.5L732.1 151.6L738.1 151.7L744.1 151.8L750.1 151.9L756.1 152.0L762.1 152.1L768.1 152.2L774.1 152.3L780.1 152.4L786.1 152.4L792.1 152.5L798.1 152.6L804.1 152.7L810.1 152.8L816.1 152.9L822.1 153.0L828.1 153.1L834.1 153.2L840.1 153.3L846.1 153.4L852.1 153.5L858.1 153.6L864.1 153.7L870.1 153.8L876.1 153.9L882.1 154.0L888.1 154.1L890.0 154.2" stroke="#424bb5" stroke-opacity="0.18" stroke-width="0.9" fill="none"/>
<path d="M618.1 320.2L624.1 320.2L630.1 320.3L636.1 320.3L642.1 320.3L648.1 320.4L654.1 320.4L660.1 320.5L666.1 320.6L672.1 320.6L678.1 320.7L684.1 320.7L690.1 320.8L696.1 320.9L702.1 320.9L708.1 321.0L714.1 321.1L720.1 321.2L726.1 321.3L732.1 321.4L738.1 321.5L744.1 321.5L750.1 321.6L756.1 321.7L762.1 321.8L768.1 321.9L774.1 322.0L780.1 322.1L786.1 322.2L792.1 322.3L798.1 322.4L804.1 322.5L810.1 322.5L816.1 322.6L822.1 322.7L828.1 322.8L834.1 322.9L840.1 323.0L846.1 323.1L852.1 323.2L858.1 323.3L864.1 323.4L870.1 323.5L876.1 323.6L882.1 323.7L888.1 323.9L890.0 323.9" stroke="#38a088" stroke-opacity="0.42" stroke-width="0.85" fill="none"/>
<path d="M618.1 336.6L624.1 336.6L630.1 336.7L636.1 336.7L642.1 336.7L648.1 336.8L654.1 336.8L660.1 336.9L666.1 337.0L672.1 337.0L678.1 337.1L684.1 337.1L690.1 337.2L696.1 337.3L702.1 337.3L708.1 337.4L714.1 337.5L720.1 337.6L726.1 337.7L732.1 337.8L738.1 337.9L744.1 337.9L750.1 338.0L756.1 338.1L762.1 338.2L768.1 338.3L774.1 338.4L780.1 338.5L786.1 338.6L792.1 338.7L798.1 338.8L804.1 338.9L810.1 338.9L816.1 339.0L822.1 339.1L828.1 339.2L834.1 339.3L840.1 339.4L846.1 339.5L852.1 339.6L858.1 339.7L864.1 339.8L870.1 339.9L876.1 340.0L882.1 340.1L888.1 340.3L890.0 340.3" stroke="#58a860" stroke-opacity="0.43" stroke-width="0.85" fill="none"/>
<path d="M618.1 353.0L624.1 353.0L630.1 353.1L636.1 353.1L642.1 353.1L648.1 353.2L654.1 353.2L660.1 353.3L666.1 353.4L672.1 353.4L678.1 353.5L684.1 353.5L690.1 353.6L696.1 353.7L702.1 353.7L708.1 353.8L714.1 353.9L720.1 354.0L726.1 354.1L732.1 354.2L738.1 354.3L744.1 354.3L750.1 354.4L756.1 354.5L762.1 354.6L768.1 354.7L774.1 354.8L780.1 354.9L786.1 355.0L792.1 355.1L798.1 355.2L804.1 355.3L810.1 355.3L816.1 355.4L822.1 355.5L828.1 355.6L834.1 355.7L840.1 355.8L846.1 355.9L852.1 356.0L858.1 356.1L864.1 356.2L870.1 356.3L876.1 356.4L882.1 356.5L888.1 356.7L890.0 356.7" stroke="#8c1a14" stroke-opacity="0.5" stroke-width="0.8" fill="none"/>
<path d="M618.1 353.0L624.1 353.0L630.1 353.1L636.1 353.1L642.1 353.1L648.1 353.2L654.1 353.2L660.1 353.3L666.1 353.4L672.1 353.4L678.1 353.5L684.1 353.5L690.1 353.6L696.1 353.7L702.1 353.7L708.1 353.8L714.1 353.9L720.1 354.0L726.1 354.1L732.1 354.2L738.1 354.3L744.1 354.3L750.1 354.4L756.1 354.5L762.1 354.6L768.1 354.7L774.1 354.8L780.1 354.9L786.1 355.0L792.1 355.1L798.1 355.2L804.1 355.3L810.1 355.3L816.1 355.4L822.1 355.5L828.1 355.6L834.1 355.7L840.1 355.8L846.1 355.9L852.1 356.0L858.1 356.1L864.1 356.2L870.1 356.3L876.1 356.4L882.1 356.5L888.1 356.7L890.0 356.7" stroke="#7f8ad0" stroke-opacity="0.4" stroke-width="0.9" fill="none" stroke-dasharray="2.4 3.27"/>
<path d="M618.1 369.4L624.1 369.4L630.1 369.5L636.1 369.5L642.1 369.5L648.1 369.6L654.1 369.6L660.1 369.7L666.1 369.8L672.1 369.8L678.1 369.9L684.1 369.9L690.1 370.0L696.1 370.1L702.1 370.1L708.1 370.2L714.1 370.3L720.1 370.4L726.1 370.5L732.1 370.6L738.1 370.7L744.1 370.7L750.1 370.8L756.1 370.9L762.1 371.0L768.1 371.1L774.1 371.2L780.1 371.3L786.1 371.4L792.1 371.5L798.1 371.6L804.1 371.7L810.1 371.7L816.1 371.8L822.1 371.9L828.1 372.0L834.1 372.1L840.1 372.2L846.1 372.3L852.1 372.4L858.1 372.5L864.1 372.6L870.1 372.7L876.1 372.8L882.1 372.9L888.1 373.1L890.0 373.1" stroke="#6a1420" stroke-opacity="0.25" stroke-width="0.9" fill="none"/>
<path d="M618.1 369.4L624.1 369.4L630.1 369.5L636.1 369.5L642.1 369.5L648.1 369.6L654.1 369.6L660.1 369.7L666.1 369.8L672.1 369.8L678.1 369.9L684.1 369.9L690.1 370.0L696.1 370.1L702.1 370.1L708.1 370.2L714.1 370.3L720.1 370.4L726.1 370.5L732.1 370.6L738.1 370.7L744.1 370.7L750.1 370.8L756.1 370.9L762.1 371.0L768.1 371.1L774.1 371.2L780.1 371.3L786.1 371.4L792.1 371.5L798.1 371.6L804.1 371.7L810.1 371.7L816.1 371.8L822.1 371.9L828.1 372.0L834.1 372.1L840.1 372.2L846.1 372.3L852.1 372.4L858.1 372.5L864.1 372.6L870.1 372.7L876.1 372.8L882.1 372.9L888.1 373.1L890.0 373.1" stroke="#7585e0" stroke-opacity="0.44" stroke-width="1.0" fill="none" stroke-dasharray="3 2.67"/>
<path d="M618.1 385.8L624.1 385.8L630.1 385.9L636.1 385.9L642.1 385.9L648.1 386.0L654.1 386.0L660.1 386.1L666.1 386.2L672.1 386.2L678.1 386.3L684.1 386.3L690.1 386.4L696.1 386.5L702.1 386.5L708.1 386.6L714.1 386.7L720.1 386.8L726.1 386.9L732.1 387.0L738.1 387.1L744.1 387.1L750.1 387.2L756.1 387.3L762.1 387.4L768.1 387.5L774.1 387.6L780.1 387.7L786.1 387.8L792.1 387.9L798.1 388.0L804.1 388.1L810.1 388.1L816.1 388.2L822.1 388.3L828.1 388.4L834.1 388.5L840.1 388.6L846.1 388.7L852.1 388.8L858.1 388.9L864.1 389.0L870.1 389.1L876.1 389.2L882.1 389.3L888.1 389.5L890.0 389.5" stroke="#6a1420" stroke-opacity="0.25" stroke-width="0.9" fill="none"/>
<path d="M618.1 385.8L624.1 385.8L630.1 385.9L636.1 385.9L642.1 385.9L648.1 386.0L654.1 386.0L660.1 386.1L666.1 386.2L672.1 386.2L678.1 386.3L684.1 386.3L690.1 386.4L696.1 386.5L702.1 386.5L708.1 386.6L714.1 386.7L720.1 386.8L726.1 386.9L732.1 387.0L738.1 387.1L744.1 387.1L750.1 387.2L756.1 387.3L762.1 387.4L768.1 387.5L774.1 387.6L780.1 387.7L786.1 387.8L792.1 387.9L798.1 388.0L804.1 388.1L810.1 388.1L816.1 388.2L822.1 388.3L828.1 388.4L834.1 388.5L840.1 388.6L846.1 388.7L852.1 388.8L858.1 388.9L864.1 389.0L870.1 389.1L876.1 389.2L882.1 389.3L888.1 389.5L890.0 389.5" stroke="#7d8de6" stroke-opacity="0.47" stroke-width="1.0" fill="none" stroke-dasharray="3 2.67"/>
<path d="M618.1 402.2L624.1 402.2L630.1 402.3L636.1 402.3L642.1 402.3L648.1 402.4L654.1 402.4L660.1 402.5L666.1 402.6L672.1 402.6L678.1 402.7L684.1 402.7L690.1 402.8L696.1 402.9L702.1 402.9L708.1 403.0L714.1 403.1L720.1 403.2L726.1 403.3L732.1 403.4L738.1 403.5L744.1 403.5L750.1 403.6L756.1 403.7L762.1 403.8L768.1 403.9L774.1 404.0L780.1 404.1L786.1 404.2L792.1 404.3L798.1 404.4L804.1 404.5L810.1 404.5L816.1 404.6L822.1 404.7L828.1 404.8L834.1 404.9L840.1 405.0L846.1 405.1L852.1 405.2L858.1 405.3L864.1 405.4L870.1 405.5L876.1 405.6L882.1 405.7L888.1 405.9L890.0 405.9" stroke="#48a870" stroke-opacity="0.42" stroke-width="0.85" fill="none"/>
<path d="M618.1 418.6L624.1 418.6L630.1 418.7L636.1 418.7L642.1 418.7L648.1 418.8L654.1 418.8L660.1 418.9L666.1 419.0L672.1 419.0L678.1 419.1L684.1 419.1L690.1 419.2L696.1 419.3L702.1 419.3L708.1 419.4L714.1 419.5L720.1 419.6L726.1 419.7L732.1 419.8L738.1 419.9L744.1 419.9L750.1 420.0L756.1 420.1L762.1 420.2L768.1 420.3L774.1 420.4L780.1 420.5L786.1 420.6L792.1 420.7L798.1 420.8L804.1 420.9L810.1 420.9L816.1 421.0L822.1 421.1L828.1 421.2L834.1 421.3L840.1 421.4L846.1 421.5L852.1 421.6L858.1 421.7L864.1 421.8L870.1 421.9L876.1 422.0L882.1 422.1L888.1 422.3L890.0 422.3" stroke="#4559cb" stroke-opacity="0.3" stroke-width="0.9" fill="none"/>
<path d="M618.1 435.0L624.1 435.0L630.1 435.1L636.1 435.1L642.1 435.1L648.1 435.2L654.1 435.2L660.1 435.3L666.1 435.4L672.1 435.4L678.1 435.5L684.1 435.5L690.1 435.6L696.1 435.7L702.1 435.7L708.1 435.8L714.1 435.9L720.1 436.0L726.1 436.1L732.1 436.2L738.1 436.3L744.1 436.3L750.1 436.4L756.1 436.5L762.1 436.6L768.1 436.7L774.1 436.8L780.1 436.9L786.1 437.0L792.1 437.1L798.1 437.2L804.1 437.3L810.1 437.3L816.1 437.4L822.1 437.5L828.1 437.6L834.1 437.7L840.1 437.8L846.1 437.9L852.1 438.0L858.1 438.1L864.1 438.2L870.1 438.3L876.1 438.4L882.1 438.5L888.1 438.7L890.0 438.7" stroke="#4143a7" stroke-opacity="0.12" stroke-width="0.9" fill="none"/>
<path d="M618.1 443.6L624.1 443.6L630.1 443.7L636.1 443.7L642.1 443.8L648.1 443.8L654.1 443.9L660.1 443.9L666.1 444.0L672.1 444.0L678.1 444.1L684.1 444.1L690.1 444.2L696.1 444.3L702.1 444.3L708.1 444.4L714.1 444.5L720.1 444.6L726.1 444.7L732.1 444.8L738.1 444.9L744.1 445.0L750.1 445.1L756.1 445.2L762.1 445.2L768.1 445.3L774.1 445.4L780.1 445.5L786.1 445.6L792.1 445.7L798.1 445.8L804.1 445.9L810.1 446.0L816.1 446.0L822.1 446.1L828.1 446.2L834.1 446.3L840.1 446.4L846.1 446.5L852.1 446.6L858.1 446.7L864.1 446.8L870.1 446.9L876.1 447.0L882.1 447.2L888.1 447.3L890.0 447.3" stroke="#4559cb" stroke-opacity="0.28" stroke-width="0.9" fill="none"/>
<path d="M618.1 473.5L624.1 473.6L630.1 473.6L636.1 473.6L642.1 473.7L648.1 473.7L654.1 473.8L660.1 473.8L666.1 473.9L672.1 473.9L678.1 474.0L684.1 474.1L690.1 474.1L696.1 474.2L702.1 474.3L708.1 474.3L714.1 474.4L720.1 474.5L726.1 474.6L732.1 474.7L738.1 474.8L744.1 474.9L750.1 475.0L756.1 475.1L762.1 475.2L768.1 475.3L774.1 475.3L780.1 475.4L786.1 475.5L792.1 475.6L798.1 475.7L804.1 475.8L810.1 475.9L816.1 476.0L822.1 476.1L828.1 476.2L834.1 476.3L840.1 476.4L846.1 476.5L852.1 476.6L858.1 476.7L864.1 476.8L870.1 476.9L876.1 477.0L882.1 477.1L888.1 477.2L890.0 477.2" stroke="#424bb5" stroke-opacity="0.18" stroke-width="0.9" fill="none"/>
<path d="M618.1 312.0L624.1 312.0L630.1 312.1L636.1 312.1L642.1 312.1L648.1 312.2L654.1 312.2L660.1 312.3L666.1 312.4L672.1 312.4L678.1 312.5L684.1 312.5L690.1 312.6L696.1 312.7L702.1 312.7L708.1 312.8L714.1 312.9L720.1 313.0L726.1 313.1L732.1 313.2L738.1 313.3L744.1 313.3L750.1 313.4L756.1 313.5L762.1 313.6L768.1 313.7L774.1 313.8L780.1 313.9L786.1 314.0L792.1 314.1L798.1 314.2L804.1 314.3L810.1 314.3L816.1 314.4L822.1 314.5L828.1 314.6L834.1 314.7L840.1 314.8L846.1 314.9L852.1 315.0L858.1 315.1L864.1 315.2L870.1 315.3L876.1 315.4L882.1 315.5L888.1 315.7L890.0 315.7" stroke="#4559cb" stroke-opacity="0.75" stroke-width="7" fill="none" stroke-dasharray="3.4 2.27" stroke-dashoffset="-1.20" filter="url(#b1)"/>
<path d="M618.1 312.0L624.1 312.0L630.1 312.1L636.1 312.1L642.1 312.1L648.1 312.2L654.1 312.2L660.1 312.3L666.1 312.4L672.1 312.4L678.1 312.5L684.1 312.5L690.1 312.6L696.1 312.7L702.1 312.7L708.1 312.8L714.1 312.9L720.1 313.0L726.1 313.1L732.1 313.2L738.1 313.3L744.1 313.3L750.1 313.4L756.1 313.5L762.1 313.6L768.1 313.7L774.1 313.8L780.1 313.9L786.1 314.0L792.1 314.1L798.1 314.2L804.1 314.3L810.1 314.3L816.1 314.4L822.1 314.5L828.1 314.6L834.1 314.7L840.1 314.8L846.1 314.9L852.1 315.0L858.1 315.1L864.1 315.2L870.1 315.3L876.1 315.4L882.1 315.5L888.1 315.7L890.0 315.7" stroke="#4680f6" stroke-opacity="0.9" stroke-width="3.6" fill="none" stroke-dasharray="2.6 3.07" stroke-dashoffset="-1.60" filter="url(#b05)"/>
<path d="M618.1 312.0L624.1 312.0L630.1 312.1L636.1 312.1L642.1 312.1L648.1 312.2L654.1 312.2L660.1 312.3L666.1 312.4L672.1 312.4L678.1 312.5L684.1 312.5L690.1 312.6L696.1 312.7L702.1 312.7L708.1 312.8L714.1 312.9L720.1 313.0L726.1 313.1L732.1 313.2L738.1 313.3L744.1 313.3L750.1 313.4L756.1 313.5L762.1 313.6L768.1 313.7L774.1 313.8L780.1 313.9L786.1 314.0L792.1 314.1L798.1 314.2L804.1 314.3L810.1 314.3L816.1 314.4L822.1 314.5L828.1 314.6L834.1 314.7L840.1 314.8L846.1 314.9L852.1 315.0L858.1 315.1L864.1 315.2L870.1 315.3L876.1 315.4L882.1 315.5L888.1 315.7L890.0 315.7" stroke="#ce2d04" stroke-width="1.1" fill="none"/>
<path d="M618.1 312.0L624.1 312.0L630.1 312.1L636.1 312.1L642.1 312.1L648.1 312.2L654.1 312.2L660.1 312.3L666.1 312.4L672.1 312.4L678.1 312.5L684.1 312.5L690.1 312.6L696.1 312.7L702.1 312.7L708.1 312.8L714.1 312.9L720.1 313.0L726.1 313.1L732.1 313.2L738.1 313.3L744.1 313.3L750.1 313.4L756.1 313.5L762.1 313.6L768.1 313.7L774.1 313.8L780.1 313.9L786.1 314.0L792.1 314.1L798.1 314.2L804.1 314.3L810.1 314.3L816.1 314.4L822.1 314.5L828.1 314.6L834.1 314.7L840.1 314.8L846.1 314.9L852.1 315.0L858.1 315.1L864.1 315.2L870.1 315.3L876.1 315.4L882.1 315.5L888.1 315.7L890.0 315.7" stroke="#d09a68" stroke-width="1.5" fill="none" stroke-dasharray="2.4 3.27" stroke-dashoffset="-1.70" filter="url(#b05)"/>
<rect x="351.59999999999997" y="127.75000000000001" width="2.2" height="1.1" fill="#28bceb" opacity="0.75"/>
<rect x="345.9" y="152.45" width="2.2" height="1.1" fill="#19e3b9" opacity="0.75"/>
<rect x="350.9" y="156.45" width="2.2" height="1.1" fill="#19e3b9" opacity="0.75"/>
<rect x="349.9" y="159.45" width="2.2" height="1.1" fill="#35f394" opacity="0.75"/>
<rect x="430.9" y="204.45" width="2.2" height="1.1" fill="#19e3b9" opacity="0.75"/>
<rect x="427.9" y="228.45" width="2.2" height="1.1" fill="#19e3b9" opacity="0.75"/>
<rect x="429.9" y="232.45" width="2.2" height="1.1" fill="#65fd69" opacity="0.75"/>
<rect x="186.9" y="306.45" width="2.2" height="1.1" fill="#19e3b9" opacity="0.75"/>
<rect x="190.9" y="313.45" width="2.2" height="1.1" fill="#1ecbda" opacity="0.75"/>
<rect x="192.9" y="340.45" width="2.2" height="1.1" fill="#1ecbda" opacity="0.75"/>
<rect x="266.9" y="350.45" width="2.2" height="1.1" fill="#19e3b9" opacity="0.75"/>
<rect x="269.9" y="358.45" width="2.2" height="1.1" fill="#1ecbda" opacity="0.75"/>
<rect x="270.9" y="386.45" width="2.2" height="1.1" fill="#1ecbda" opacity="0.75"/>
<rect x="346.9" y="419.45" width="2.2" height="1.1" fill="#19e3b9" opacity="0.75"/>
<rect x="348.9" y="427.45" width="2.2" height="1.1" fill="#19e3b9" opacity="0.75"/>
<rect x="350.9" y="456.45" width="2.2" height="1.1" fill="#1ecbda" opacity="0.75"/>
<rect x="426.9" y="492.45" width="2.2" height="1.1" fill="#65fd69" opacity="0.75"/>
<rect x="428.9" y="496.45" width="2.2" height="1.1" fill="#65fd69" opacity="0.75"/>
<rect x="510.59999999999997" y="257.15" width="2.2" height="1.1" fill="#33adf7" opacity="0.75"/>
<rect x="508.9" y="284.45" width="2.2" height="1.1" fill="#1ecbda" opacity="0.75"/>
<rect x="506.4" y="291.75" width="2.2" height="1.1" fill="#19e3b9" opacity="0.75"/>
<rect x="508.9" y="290.45" width="2.2" height="1.1" fill="#19e3b9" opacity="0.75"/>
<rect x="666.9" y="146.95" width="2.2" height="1.1" fill="#92ff47" opacity="0.75"/>
<rect x="746.9" y="147.95" width="2.2" height="1.1" fill="#79fe59" opacity="0.45"/>
<rect x="826.9" y="148.95" width="2.2" height="1.1" fill="#79fe59" opacity="0.45"/>
<rect x="665.9" y="180.95" width="2.2" height="1.1" fill="#79fe59" opacity="0.45"/>
<rect x="746.9" y="181.95" width="2.2" height="1.1" fill="#79fe59" opacity="0.45"/>
<rect x="826.9" y="182.95" width="2.2" height="1.1" fill="#79fe59" opacity="0.45"/>
<rect x="666.9" y="174.45" width="2.2" height="1.1" fill="#19d5cd" opacity="0.45"/>
<rect x="746.9" y="175.45" width="2.2" height="1.1" fill="#19d5cd" opacity="0.45"/>
<rect x="826.9" y="176.45" width="2.2" height="1.1" fill="#19d5cd" opacity="0.45"/>
<rect x="666.9" y="443.95" width="2.2" height="1.1" fill="#79fe59" opacity="0.45"/>
<rect x="746.9" y="444.95" width="2.2" height="1.1" fill="#79fe59" opacity="0.45"/>
<rect x="826.9" y="445.95" width="2.2" height="1.1" fill="#79fe59" opacity="0.45"/>
<rect x="669.9" y="449.45" width="2.2" height="1.1" fill="#19d5cd" opacity="0.45"/>
<rect x="749.9" y="450.45" width="2.2" height="1.1" fill="#19d5cd" opacity="0.45"/>
<rect x="829.9" y="451.45" width="2.2" height="1.1" fill="#19d5cd" opacity="0.45"/>
<rect x="671.9" y="475.45" width="2.2" height="1.1" fill="#46f884" opacity="0.45"/>
<rect x="751.9" y="476.45" width="2.2" height="1.1" fill="#46f884" opacity="0.45"/>
<rect x="831.9" y="477.45" width="2.2" height="1.1" fill="#46f884" opacity="0.45"/>
</g>
<path d="M122.5 95v4M122.5 505v-4M131.5 95v4M131.5 505v-4M139.5 95v4M139.5 505v-4M148.5 95v4M148.5 505v-4M156.5 95v4M156.5 505v-4M165.5 95v4M165.5 505v-4M174.5 95v4M174.5 505v-4M182.5 95v4M182.5 505v-4M191.5 95v4M191.5 505v-4M199.5 95v7M199.5 505v-7M208.5 95v4M208.5 505v-4M216.5 95v4M216.5 505v-4M225.5 95v4M225.5 505v-4M234.5 95v4M234.5 505v-4M242.5 95v4M242.5 505v-4M251.5 95v4M251.5 505v-4M259.5 95v4M259.5 505v-4M268.5 95v4M268.5 505v-4M277.5 95v4M277.5 505v-4M285.5 95v4M285.5 505v-4M294.5 95v4M294.5 505v-4M302.5 95v4M302.5 505v-4M311.5 95v4M311.5 505v-4M320.5 95v4M320.5 505v-4M328.5 95v4M328.5 505v-4M337.5 95v4M337.5 505v-4M345.5 95v4M345.5 505v-4M354.5 95v4M354.5 505v-4M363.5 95v4M363.5 505v-4M371.5 95v7M371.5 505v-7M380.5 95v4M380.5 505v-4M388.5 95v4M388.5 505v-4M397.5 95v4M397.5 505v-4M405.5 95v4M405.5 505v-4M414.5 95v4M414.5 505v-4M423.5 95v4M423.5 505v-4M431.5 95v4M431.5 505v-4M440.5 95v4M440.5 505v-4M448.5 95v4M448.5 505v-4M457.5 95v4M457.5 505v-4M466.5 95v4M466.5 505v-4M474.5 95v4M474.5 505v-4M483.5 95v4M483.5 505v-4M491.5 95v4M491.5 505v-4M500.5 95v4M500.5 505v-4M509.5 95v4M509.5 505v-4M517.5 95v4M517.5 505v-4M526.5 95v4M526.5 505v-4M534.5 95v4M534.5 505v-4M543.5 95v7M543.5 505v-7M551.5 95v4M551.5 505v-4M560.5 95v4M560.5 505v-4M569.5 95v4M569.5 505v-4M577.5 95v4M577.5 505v-4M586.5 95v4M586.5 505v-4M594.5 95v4M594.5 505v-4M603.5 95v4M603.5 505v-4M612.5 95v4M612.5 505v-4M620.5 95v4M620.5 505v-4M629.5 95v4M629.5 505v-4M637.5 95v4M637.5 505v-4M646.5 95v4M646.5 505v-4M655.5 95v4M655.5 505v-4M663.5 95v4M663.5 505v-4M672.5 95v4M672.5 505v-4M680.5 95v4M680.5 505v-4M689.5 95v4M689.5 505v-4M698.5 95v4M698.5 505v-4M706.5 95v4M706.5 505v-4M715.5 95v7M715.5 505v-7M723.5 95v4M723.5 505v-4M732.5 95v4M732.5 505v-4M740.5 95v4M740.5 505v-4M749.5 95v4M749.5 505v-4M758.5 95v4M758.5 505v-4M766.5 95v4M766.5 505v-4M775.5 95v4M775.5 505v-4M783.5 95v4M783.5 505v-4M792.5 95v4M792.5 505v-4M801.5 95v4M801.5 505v-4M809.5 95v4M809.5 505v-4M818.5 95v4M818.5 505v-4M826.5 95v4M826.5 505v-4M835.5 95v4M835.5 505v-4M844.5 95v4M844.5 505v-4M852.5 95v4M852.5 505v-4M861.5 95v4M861.5 505v-4M869.5 95v4M869.5 505v-4M878.5 95v4M878.5 505v-4M115 464.5h7M885 464.5h-7M115 423.5h7M885 423.5h-7M115 382.5h7M885 382.5h-7M115 341.5h7M885 341.5h-7M115 300.5h7M885 300.5h-7M115 259.5h7M885 259.5h-7M115 218.5h7M885 218.5h-7M115 176.5h7M885 176.5h-7M115 135.5h7M885 135.5h-7" stroke="#fff" stroke-width="1" fill="none" shape-rendering="crispEdges"/>
<text x="500.5" y="55.7" font-size="23" text-anchor="middle" textLength="240.5" lengthAdjust="spacingAndGlyphs" font-family="Liberation Sans, sans-serif" fill="#000" stroke="#000" stroke-width="0.3">Частота сигнала IM-2</text>
<text x="70.3" y="511.8" font-size="19" textLength="26.7" lengthAdjust="spacingAndGlyphs" font-family="Liberation Sans, sans-serif" fill="#000" stroke="#000" stroke-width="0.3">-25</text>
<text x="70.3" y="470.8" font-size="19" textLength="26.7" lengthAdjust="spacingAndGlyphs" font-family="Liberation Sans, sans-serif" fill="#000" stroke="#000" stroke-width="0.3">-20</text>
<text x="70.3" y="429.8" font-size="19" textLength="26.7" lengthAdjust="spacingAndGlyphs" font-family="Liberation Sans, sans-serif" fill="#000" stroke="#000" stroke-width="0.3">-15</text>
<text x="70.3" y="388.8" font-size="19" textLength="26.7" lengthAdjust="spacingAndGlyphs" font-family="Liberation Sans, sans-serif" fill="#000" stroke="#000" stroke-width="0.3">-10</text>
<text x="79.8" y="347.8" font-size="19" textLength="17.1" lengthAdjust="spacingAndGlyphs" font-family="Liberation Sans, sans-serif" fill="#000" stroke="#000" stroke-width="0.3">-5</text>
<text x="87.5" y="306.8" font-size="19" textLength="9.6" lengthAdjust="spacingAndGlyphs" font-family="Liberation Sans, sans-serif" fill="#000" stroke="#000" stroke-width="0.3">0</text>
<text x="87.5" y="265.8" font-size="19" textLength="9.6" lengthAdjust="spacingAndGlyphs" font-family="Liberation Sans, sans-serif" fill="#000" stroke="#000" stroke-width="0.3">5</text>
<text x="77.9" y="224.8" font-size="19" textLength="19.1" lengthAdjust="spacingAndGlyphs" font-family="Liberation Sans, sans-serif" fill="#000" stroke="#000" stroke-width="0.3">10</text>
<text x="77.9" y="183.8" font-size="19" textLength="19.1" lengthAdjust="spacingAndGlyphs" font-family="Liberation Sans, sans-serif" fill="#000" stroke="#000" stroke-width="0.3">15</text>
<text x="77.9" y="142.8" font-size="19" textLength="19.1" lengthAdjust="spacingAndGlyphs" font-family="Liberation Sans, sans-serif" fill="#000" stroke="#000" stroke-width="0.3">20</text>
<text x="77.9" y="101.8" font-size="19" textLength="19.1" lengthAdjust="spacingAndGlyphs" font-family="Liberation Sans, sans-serif" fill="#000" stroke="#000" stroke-width="0.3">25</text>
<text x="199.6" y="532" font-size="19" text-anchor="middle" textLength="45.5" lengthAdjust="spacingAndGlyphs" font-family="Liberation Sans, sans-serif" fill="#000" stroke="#000" stroke-width="0.3">16:40</text>
<text x="371.4" y="532" font-size="19" text-anchor="middle" textLength="45.5" lengthAdjust="spacingAndGlyphs" font-family="Liberation Sans, sans-serif" fill="#000" stroke="#000" stroke-width="0.3">17:00</text>
<text x="543.2" y="532" font-size="19" text-anchor="middle" textLength="45.5" lengthAdjust="spacingAndGlyphs" font-family="Liberation Sans, sans-serif" fill="#000" stroke="#000" stroke-width="0.3">17:20</text>
<text x="715.0" y="532" font-size="19" text-anchor="middle" textLength="45.5" lengthAdjust="spacingAndGlyphs" font-family="Liberation Sans, sans-serif" fill="#000" stroke="#000" stroke-width="0.3">17:40</text>
<text x="885.9" y="532" font-size="19" text-anchor="middle" textLength="45.5" lengthAdjust="spacingAndGlyphs" font-family="Liberation Sans, sans-serif" fill="#000" stroke="#000" stroke-width="0.3">18:00</text>
<text x="500.8" y="578.8" font-size="19" text-anchor="middle" textLength="122.6" lengthAdjust="spacingAndGlyphs" font-family="Liberation Sans, sans-serif" fill="#000" stroke="#000" stroke-width="0.3">2025-03-06 UT</text>
<text transform="translate(36.8 299.2) rotate(-90)" font-size="19" text-anchor="middle" textLength="277.5" lengthAdjust="spacingAndGlyphs" style="white-space:pre" font-family="Liberation Sans, sans-serif" fill="#000" stroke="#000" stroke-width="0.3">Частота, кГц&#160;&#160;(0 на 2210.6 МГц)</text>
</svg>
</body></html>
